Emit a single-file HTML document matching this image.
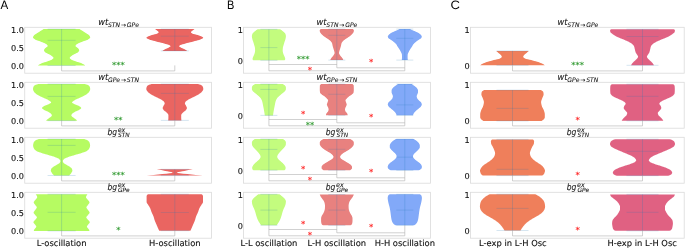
<!DOCTYPE html>
<html><head><meta charset="utf-8"><title>Figure</title>
<style>html,body{margin:0;padding:0;background:#fff}svg{display:block}</style></head>
<body>
<svg width="685" height="248" viewBox="0 0 685 248" text-rendering="geometricPrecision">
<rect width="685" height="248" fill="#fff"/>
<rect x="24.75" y="27.3" width="186.75" height="45.9" fill="none" stroke="#dadada" stroke-width="0.8"/>
<rect x="24.75" y="82.3" width="186.75" height="45.9" fill="none" stroke="#dadada" stroke-width="0.8"/>
<rect x="24.75" y="137.3" width="186.75" height="45.9" fill="none" stroke="#dadada" stroke-width="0.8"/>
<rect x="24.75" y="192.3" width="186.75" height="45.9" fill="none" stroke="#dadada" stroke-width="0.8"/>
<rect x="243.45" y="27.3" width="187.05" height="45.9" fill="none" stroke="#dadada" stroke-width="0.8"/>
<rect x="243.45" y="82.3" width="187.05" height="45.9" fill="none" stroke="#dadada" stroke-width="0.8"/>
<rect x="243.45" y="137.3" width="187.05" height="45.9" fill="none" stroke="#dadada" stroke-width="0.8"/>
<rect x="243.45" y="192.3" width="187.05" height="45.9" fill="none" stroke="#dadada" stroke-width="0.8"/>
<rect x="470.5" y="27.3" width="213.7" height="45.9" fill="none" stroke="#dadada" stroke-width="0.8"/>
<rect x="470.5" y="82.3" width="213.7" height="45.9" fill="none" stroke="#dadada" stroke-width="0.8"/>
<rect x="470.5" y="137.3" width="213.7" height="45.9" fill="none" stroke="#dadada" stroke-width="0.8"/>
<rect x="470.5" y="192.3" width="213.7" height="45.9" fill="none" stroke="#dadada" stroke-width="0.8"/>
<path d="M79.6 29.1 L80.26 29.5 L80.92 29.9 L81.57 30.3 L82.21 30.7 L82.84 31.1 L83.47 31.5 L84.09 31.9 L84.7 32.3 L85.3 32.7 L85.93 33.1 L86.59 33.5 L87.26 33.9 L87.9 34.3 L88.47 34.7 L88.95 35.1 L89.3 35.5 L89.57 35.9 L89.83 36.3 L90.04 36.7 L90.17 37.1 L90.19 37.5 L90.02 37.9 L89.67 38.3 L89.2 38.7 L88.67 39.1 L88.1 39.5 L87.29 39.9 L86.29 40.3 L85.16 40.7 L83.97 41.1 L82.8 41.5 L81.72 41.9 L80.78 42.3 L79.85 42.7 L78.92 43.1 L78.03 43.5 L77.24 43.9 L76.62 44.3 L76.22 44.7 L75.89 45.1 L75.64 45.5 L75.51 45.9 L75.59 46.3 L75.95 46.7 L76.49 47.1 L77.1 47.5 L77.68 47.9 L78.12 48.3 L78.42 48.7 L78.7 49.1 L78.96 49.5 L79.13 49.9 L79.2 50.3 L79.13 50.7 L78.95 51.1 L78.68 51.5 L78.36 51.9 L78 52.3 L77.44 52.7 L76.67 53.1 L75.79 53.5 L74.88 53.9 L74.06 54.3 L73.37 54.7 L72.71 55.1 L72.07 55.5 L71.5 55.9 L71.01 56.3 L70.58 56.7 L70.16 57.1 L69.83 57.5 L69.7 57.9 L69.84 58.3 L70.19 58.7 L70.65 59.1 L71.18 59.5 L71.92 59.9 L72.84 60.3 L73.87 60.7 L74.94 61.1 L76.06 61.5 L77.38 61.9 L78.76 62.3 L80.04 62.7 L81.1 63.1 L81.97 63.5 L82.79 63.9 L83.54 64.3 L84.2 64.7 L84.76 65.1 L85.2 65.5 L38 65.5 L38.44 65.1 L39 64.7 L39.66 64.3 L40.41 63.9 L41.23 63.5 L42.1 63.1 L43.16 62.7 L44.44 62.3 L45.82 61.9 L47.14 61.5 L48.26 61.1 L49.33 60.7 L50.36 60.3 L51.28 59.9 L52.02 59.5 L52.55 59.1 L53.01 58.7 L53.36 58.3 L53.5 57.9 L53.37 57.5 L53.04 57.1 L52.62 56.7 L52.19 56.3 L51.7 55.9 L51.13 55.5 L50.49 55.1 L49.83 54.7 L49.14 54.3 L48.32 53.9 L47.41 53.5 L46.53 53.1 L45.76 52.7 L45.2 52.3 L44.84 51.9 L44.52 51.5 L44.25 51.1 L44.07 50.7 L44 50.3 L44.07 49.9 L44.24 49.5 L44.5 49.1 L44.78 48.7 L45.08 48.3 L45.52 47.9 L46.1 47.5 L46.71 47.1 L47.25 46.7 L47.61 46.3 L47.69 45.9 L47.56 45.5 L47.31 45.1 L46.98 44.7 L46.58 44.3 L45.96 43.9 L45.17 43.5 L44.28 43.1 L43.35 42.7 L42.42 42.3 L41.48 41.9 L40.4 41.5 L39.23 41.1 L38.04 40.7 L36.91 40.3 L35.91 39.9 L35.1 39.5 L34.53 39.1 L34 38.7 L33.53 38.3 L33.18 37.9 L33.01 37.5 L33.03 37.1 L33.16 36.7 L33.37 36.3 L33.63 35.9 L33.9 35.5 L34.25 35.1 L34.73 34.7 L35.3 34.3 L35.94 33.9 L36.61 33.5 L37.27 33.1 L37.9 32.7 L38.5 32.3 L39.11 31.9 L39.73 31.5 L40.36 31.1 L40.99 30.7 L41.63 30.3 L42.28 29.9 L42.94 29.5 L43.6 29.1Z" fill="#b6fb62"/>
<path d="M194.5 29.1 L193.93 29.5 L193.38 29.9 L192.87 30.3 L192.4 30.7 L191.89 31.1 L191.38 31.5 L191 31.9 L190.91 32.3 L191.13 32.7 L191.55 33.1 L192.15 33.5 L193.34 33.9 L194.88 34.3 L196.43 34.7 L197.73 35.1 L199.02 35.5 L200.23 35.9 L201.21 36.3 L201.94 36.7 L202.61 37.1 L203.08 37.5 L203.18 37.9 L202.8 38.3 L202.1 38.7 L201.3 39.1 L200.36 39.5 L199.16 39.9 L197.79 40.3 L196.33 40.7 L194.86 41.1 L193.38 41.5 L191.78 41.9 L190.12 42.3 L188.49 42.7 L186.96 43.1 L185.52 43.5 L184.04 43.9 L182.61 44.3 L181.35 44.7 L180.36 45.1 L179.69 45.5 L179.16 45.9 L179.02 46.3 L179.41 46.7 L180.08 47.1 L180.77 47.5 L181.53 47.9 L182.41 48.3 L183.33 48.7 L184.21 49.1 L185 49.5 L185.69 49.9 L186.33 50.3 L186.92 50.7 L187.2 50.9 L162.4 50.9 L162.68 50.7 L163.27 50.3 L163.91 49.9 L164.6 49.5 L165.39 49.1 L166.27 48.7 L167.19 48.3 L168.07 47.9 L168.83 47.5 L169.52 47.1 L170.19 46.7 L170.58 46.3 L170.44 45.9 L169.91 45.5 L169.24 45.1 L168.25 44.7 L166.99 44.3 L165.56 43.9 L164.08 43.5 L162.64 43.1 L161.11 42.7 L159.48 42.3 L157.82 41.9 L156.22 41.5 L154.74 41.1 L153.27 40.7 L151.81 40.3 L150.44 39.9 L149.24 39.5 L148.3 39.1 L147.5 38.7 L146.8 38.3 L146.42 37.9 L146.52 37.5 L146.99 37.1 L147.66 36.7 L148.39 36.3 L149.37 35.9 L150.58 35.5 L151.87 35.1 L153.17 34.7 L154.72 34.3 L156.26 33.9 L157.45 33.5 L158.05 33.1 L158.47 32.7 L158.69 32.3 L158.6 31.9 L158.22 31.5 L157.71 31.1 L157.2 30.7 L156.73 30.3 L156.22 29.9 L155.67 29.5 L155.1 29.1Z" fill="#ea6561"/>
<path d="M84.8 84 L86.29 84.4 L87.48 84.8 L88.23 85.2 L88.81 85.6 L89.26 86 L89.55 86.4 L89.72 86.8 L89.86 87.2 L89.98 87.6 L90.08 88 L90.15 88.4 L90.19 88.8 L90.2 89.2 L90.15 89.6 L90.04 90 L89.89 90.4 L89.71 90.8 L89.51 91.2 L89.3 91.6 L89.05 92 L88.72 92.4 L88.34 92.8 L87.9 93.2 L87.43 93.6 L86.93 94 L86.39 94.4 L85.77 94.8 L85.07 95.2 L84.33 95.6 L83.54 96 L82.73 96.4 L81.91 96.8 L81.09 97.2 L80.21 97.6 L79.27 98 L78.31 98.4 L77.37 98.8 L76.48 99.2 L75.7 99.6 L74.99 100 L74.31 100.4 L73.68 100.8 L73.14 101.2 L72.7 101.6 L72.27 102 L72.01 102.4 L72.16 102.8 L72.71 103.2 L73.37 103.6 L74.19 104 L75.14 104.4 L76.06 104.8 L77.05 105.2 L78.06 105.6 L78.99 106 L79.73 106.4 L80.23 106.8 L80.67 107.2 L81.02 107.6 L81.19 108 L81.1 108.4 L80.72 108.8 L80.17 109.2 L79.6 109.6 L78.95 110 L78.14 110.4 L77.23 110.8 L76.3 111.2 L75.43 111.6 L74.66 112 L74.03 112.4 L73.41 112.8 L72.84 113.2 L72.35 113.6 L71.97 114 L71.69 114.4 L71.44 114.8 L71.31 115.2 L71.36 115.6 L71.6 116 L71.92 116.4 L72.3 116.8 L72.84 117.2 L73.4 117.6 L73.95 118 L74.52 118.4 L75.09 118.8 L75.6 119.2 L76.07 119.6 L76.51 120 L76.92 120.4 L77.2 120.7 L46 120.7 L46.28 120.4 L46.69 120 L47.13 119.6 L47.6 119.2 L48.11 118.8 L48.68 118.4 L49.25 118 L49.8 117.6 L50.36 117.2 L50.9 116.8 L51.28 116.4 L51.6 116 L51.84 115.6 L51.89 115.2 L51.76 114.8 L51.51 114.4 L51.23 114 L50.85 113.6 L50.36 113.2 L49.79 112.8 L49.17 112.4 L48.54 112 L47.77 111.6 L46.9 111.2 L45.97 110.8 L45.06 110.4 L44.25 110 L43.6 109.6 L43.03 109.2 L42.48 108.8 L42.1 108.4 L42.01 108 L42.18 107.6 L42.53 107.2 L42.97 106.8 L43.47 106.4 L44.21 106 L45.14 105.6 L46.15 105.2 L47.14 104.8 L48.06 104.4 L49.01 104 L49.83 103.6 L50.49 103.2 L51.04 102.8 L51.19 102.4 L50.93 102 L50.5 101.6 L50.06 101.2 L49.52 100.8 L48.89 100.4 L48.21 100 L47.5 99.6 L46.72 99.2 L45.83 98.8 L44.89 98.4 L43.93 98 L42.99 97.6 L42.11 97.2 L41.29 96.8 L40.47 96.4 L39.66 96 L38.87 95.6 L38.13 95.2 L37.43 94.8 L36.81 94.4 L36.27 94 L35.77 93.6 L35.3 93.2 L34.86 92.8 L34.48 92.4 L34.15 92 L33.9 91.6 L33.69 91.2 L33.49 90.8 L33.31 90.4 L33.16 90 L33.05 89.6 L33 89.2 L33.01 88.8 L33.05 88.4 L33.12 88 L33.22 87.6 L33.34 87.2 L33.48 86.8 L33.65 86.4 L33.94 86 L34.39 85.6 L34.97 85.2 L35.72 84.8 L36.91 84.4 L38.4 84Z" fill="#b6fb62"/>
<path d="M198 84 L199.43 84.4 L200.59 84.8 L201.33 85.2 L201.91 85.6 L202.36 86 L202.65 86.4 L202.82 86.8 L202.96 87.2 L203.08 87.6 L203.18 88 L203.25 88.4 L203.29 88.8 L203.3 89.2 L203.22 89.6 L203.07 90 L202.85 90.4 L202.58 90.8 L202.29 91.2 L202 91.6 L201.67 92 L201.26 92.4 L200.79 92.8 L200.27 93.2 L199.72 93.6 L199.14 94 L198.54 94.4 L197.87 94.8 L197.15 95.2 L196.38 95.6 L195.59 96 L194.79 96.4 L193.99 96.8 L193.2 97.2 L192.38 97.6 L191.53 98 L190.67 98.4 L189.84 98.8 L189.07 99.2 L188.4 99.6 L187.78 100 L187.17 100.4 L186.59 100.8 L186.08 101.2 L185.68 101.6 L185.4 102 L185.2 102.4 L185.04 102.8 L184.93 103.2 L184.91 103.6 L185.02 104 L185.23 104.4 L185.49 104.8 L185.74 105.2 L185.94 105.6 L186.14 106 L186.34 106.4 L186.54 106.8 L186.71 107.2 L186.84 107.6 L186.9 108 L186.87 108.4 L186.73 108.8 L186.51 109.2 L186.25 109.6 L185.97 110 L185.65 110.4 L185.2 110.8 L184.66 111.2 L184.1 111.6 L183.56 112 L183.09 112.4 L182.72 112.8 L182.35 113.2 L181.99 113.6 L181.66 114 L181.4 114.4 L181.24 114.8 L181.2 115.2 L181.2 115.6 L181.2 116 L181.2 116.4 L181.2 116.8 L181.2 117.2 L181.2 117.6 L181.21 118 L181.22 118.4 L181.25 118.8 L181.28 119.2 L181.32 119.6 L181.36 120 L181.4 120.4 L168.2 120.4 L168.24 120 L168.28 119.6 L168.32 119.2 L168.35 118.8 L168.38 118.4 L168.39 118 L168.4 117.6 L168.4 117.2 L168.4 116.8 L168.4 116.4 L168.4 116 L168.4 115.6 L168.4 115.2 L168.36 114.8 L168.2 114.4 L167.94 114 L167.61 113.6 L167.25 113.2 L166.88 112.8 L166.51 112.4 L166.04 112 L165.5 111.6 L164.94 111.2 L164.4 110.8 L163.95 110.4 L163.63 110 L163.35 109.6 L163.09 109.2 L162.87 108.8 L162.73 108.4 L162.7 108 L162.76 107.6 L162.89 107.2 L163.06 106.8 L163.26 106.4 L163.46 106 L163.66 105.6 L163.86 105.2 L164.11 104.8 L164.37 104.4 L164.58 104 L164.69 103.6 L164.67 103.2 L164.56 102.8 L164.4 102.4 L164.2 102 L163.92 101.6 L163.52 101.2 L163.01 100.8 L162.43 100.4 L161.82 100 L161.2 99.6 L160.53 99.2 L159.76 98.8 L158.93 98.4 L158.07 98 L157.22 97.6 L156.4 97.2 L155.61 96.8 L154.81 96.4 L154.01 96 L153.22 95.6 L152.45 95.2 L151.73 94.8 L151.06 94.4 L150.46 94 L149.88 93.6 L149.33 93.2 L148.81 92.8 L148.34 92.4 L147.93 92 L147.6 91.6 L147.31 91.2 L147.02 90.8 L146.75 90.4 L146.53 90 L146.38 89.6 L146.3 89.2 L146.31 88.8 L146.35 88.4 L146.42 88 L146.52 87.6 L146.64 87.2 L146.78 86.8 L146.95 86.4 L147.24 86 L147.69 85.6 L148.27 85.2 L149.01 84.8 L150.17 84.4 L151.6 84Z" fill="#ea6561"/>
<path d="M84.3 139 L85.45 139.4 L86.49 139.8 L87.33 140.2 L87.93 140.6 L88.39 141 L88.8 141.4 L89.13 141.8 L89.37 142.2 L89.53 142.6 L89.66 143 L89.77 143.4 L89.87 143.8 L89.96 144.2 L90.03 144.6 L90.07 145 L90.1 145.4 L90.09 145.8 L90.05 146.2 L89.97 146.6 L89.86 147 L89.72 147.4 L89.56 147.8 L89.39 148.2 L89.2 148.6 L88.97 149 L88.66 149.4 L88.28 149.8 L87.83 150.2 L87.32 150.6 L86.75 151 L86.06 151.4 L85.13 151.8 L84.03 152.2 L82.82 152.6 L81.6 153 L80.37 153.4 L79.03 153.8 L77.63 154.2 L76.21 154.6 L74.83 155 L73.49 155.4 L72.12 155.8 L70.77 156.2 L69.49 156.6 L68.36 157 L67.35 157.4 L66.36 157.8 L65.45 158.2 L64.68 158.6 L64.1 159 L63.72 159.4 L63.36 159.8 L63.07 160.2 L62.87 160.6 L62.8 161 L62.84 161.4 L62.95 161.8 L63.11 162.2 L63.3 162.6 L63.62 163 L64.13 163.4 L64.77 163.8 L65.45 164.2 L66.1 164.6 L66.76 165 L67.48 165.4 L68.2 165.8 L68.89 166.2 L69.5 166.6 L70.06 167 L70.61 167.4 L71.12 167.8 L71.53 168.2 L71.8 168.6 L71.98 169 L72.15 169.4 L72.28 169.8 L72.37 170.2 L72.4 170.6 L72.34 171 L72.19 171.4 L71.97 171.8 L71.73 172.2 L71.5 172.6 L71.27 173 L71.01 173.4 L70.72 173.8 L70.4 174.2 L70.03 174.6 L69.6 175 L69.12 175.4 L69 175.5 L54.2 175.5 L54.08 175.4 L53.6 175 L53.17 174.6 L52.8 174.2 L52.48 173.8 L52.19 173.4 L51.93 173 L51.7 172.6 L51.47 172.2 L51.23 171.8 L51.01 171.4 L50.86 171 L50.8 170.6 L50.83 170.2 L50.92 169.8 L51.05 169.4 L51.22 169 L51.4 168.6 L51.67 168.2 L52.08 167.8 L52.59 167.4 L53.14 167 L53.7 166.6 L54.31 166.2 L55 165.8 L55.72 165.4 L56.44 165 L57.1 164.6 L57.75 164.2 L58.43 163.8 L59.07 163.4 L59.58 163 L59.9 162.6 L60.09 162.2 L60.25 161.8 L60.36 161.4 L60.4 161 L60.33 160.6 L60.13 160.2 L59.84 159.8 L59.48 159.4 L59.1 159 L58.52 158.6 L57.75 158.2 L56.84 157.8 L55.85 157.4 L54.84 157 L53.71 156.6 L52.43 156.2 L51.08 155.8 L49.71 155.4 L48.37 155 L46.99 154.6 L45.57 154.2 L44.17 153.8 L42.83 153.4 L41.6 153 L40.38 152.6 L39.17 152.2 L38.07 151.8 L37.14 151.4 L36.45 151 L35.88 150.6 L35.37 150.2 L34.92 149.8 L34.54 149.4 L34.23 149 L34 148.6 L33.81 148.2 L33.64 147.8 L33.48 147.4 L33.34 147 L33.23 146.6 L33.15 146.2 L33.11 145.8 L33.1 145.4 L33.13 145 L33.17 144.6 L33.24 144.2 L33.33 143.8 L33.43 143.4 L33.54 143 L33.67 142.6 L33.83 142.2 L34.07 141.8 L34.4 141.4 L34.81 141 L35.27 140.6 L35.87 140.2 L36.71 139.8 L37.75 139.4 L38.9 139Z" fill="#b6fb62"/>
<path d="M192.8 169.3 L190.5 169.7 L188.32 170.1 L186.3 170.5 L184.38 170.9 L182.35 171.3 L180.22 171.7 L178.38 172.1 L176.89 172.5 L177.55 172.9 L179.8 173.3 L183.19 173.7 L187.4 174.1 L191.57 174.5 L195.8 174.9 L199.89 175.3 L202.9 175.6 L146.7 175.6 L149.71 175.3 L153.8 174.9 L158.03 174.5 L162.2 174.1 L166.41 173.7 L169.8 173.3 L172.05 172.9 L172.71 172.5 L171.22 172.1 L169.38 171.7 L167.25 171.3 L165.22 170.9 L163.3 170.5 L161.28 170.1 L159.1 169.7 L156.8 169.3Z" fill="#ea6561"/>
<path d="M87.6 194.2 L87.23 194.6 L86.91 195 L86.65 195.4 L86.46 195.8 L86.27 196.2 L86.12 196.6 L86.02 197 L86.01 197.4 L86.13 197.8 L86.39 198.2 L86.73 198.6 L87.11 199 L87.48 199.4 L87.8 199.8 L88.1 200.2 L88.45 200.6 L88.79 201 L89.1 201.4 L89.34 201.8 L89.48 202.2 L89.48 202.6 L89.35 203 L89.12 203.4 L88.83 203.8 L88.51 204.2 L88.2 204.6 L87.94 205 L87.64 205.4 L87.3 205.8 L86.97 206.2 L86.68 206.6 L86.48 207 L86.4 207.4 L86.47 207.8 L86.66 208.2 L86.92 208.6 L87.24 209 L87.57 209.4 L87.87 209.8 L88.13 210.2 L88.43 210.6 L88.76 211 L89.08 211.4 L89.34 211.8 L89.53 212.2 L89.6 212.6 L89.52 213 L89.31 213.4 L89.01 213.8 L88.66 214.2 L88.31 214.6 L88 215 L87.68 215.4 L87.32 215.8 L86.94 216.2 L86.62 216.6 L86.39 217 L86.3 217.4 L86.39 217.8 L86.61 218.2 L86.93 218.6 L87.3 219 L87.67 219.4 L88 219.8 L88.34 220.2 L88.73 220.6 L89.12 221 L89.46 221.4 L89.71 221.8 L89.8 222.2 L89.71 222.6 L89.47 223 L89.14 223.4 L88.78 223.8 L88.44 224.2 L88.16 224.6 L87.84 225 L87.5 225.4 L87.2 225.8 L86.98 226.2 L86.9 226.6 L86.99 227 L87.23 227.4 L87.55 227.8 L87.9 228.2 L88.2 228.6 L88.51 229 L88.86 229.4 L89.18 229.8 L89.37 230.2 L89.36 230.6 L89.2 230.9 L34 230.9 L33.84 230.6 L33.83 230.2 L34.02 229.8 L34.34 229.4 L34.69 229 L35 228.6 L35.3 228.2 L35.65 227.8 L35.97 227.4 L36.21 227 L36.3 226.6 L36.22 226.2 L36 225.8 L35.7 225.4 L35.36 225 L35.04 224.6 L34.76 224.2 L34.42 223.8 L34.06 223.4 L33.73 223 L33.49 222.6 L33.4 222.2 L33.49 221.8 L33.74 221.4 L34.08 221 L34.47 220.6 L34.86 220.2 L35.2 219.8 L35.53 219.4 L35.9 219 L36.27 218.6 L36.59 218.2 L36.81 217.8 L36.9 217.4 L36.81 217 L36.58 216.6 L36.26 216.2 L35.88 215.8 L35.52 215.4 L35.2 215 L34.89 214.6 L34.54 214.2 L34.19 213.8 L33.89 213.4 L33.68 213 L33.6 212.6 L33.67 212.2 L33.86 211.8 L34.12 211.4 L34.44 211 L34.77 210.6 L35.07 210.2 L35.33 209.8 L35.63 209.4 L35.96 209 L36.28 208.6 L36.54 208.2 L36.73 207.8 L36.8 207.4 L36.72 207 L36.52 206.6 L36.23 206.2 L35.9 205.8 L35.56 205.4 L35.26 205 L35 204.6 L34.69 204.2 L34.37 203.8 L34.08 203.4 L33.85 203 L33.72 202.6 L33.72 202.2 L33.86 201.8 L34.1 201.4 L34.41 201 L34.75 200.6 L35.1 200.2 L35.4 199.8 L35.72 199.4 L36.09 199 L36.47 198.6 L36.81 198.2 L37.07 197.8 L37.19 197.4 L37.18 197 L37.08 196.6 L36.93 196.2 L36.74 195.8 L36.55 195.4 L36.29 195 L35.97 194.6 L35.6 194.2Z" fill="#b6fb62"/>
<path d="M201.4 194.2 L202.05 194.6 L202.5 195 L202.78 195.4 L202.97 195.8 L203 196.2 L203 196.6 L203 197 L203 197.4 L203 197.8 L203 198.2 L203 198.6 L203 199 L203 199.4 L203 199.8 L203 200.2 L203 200.6 L203 201 L203 201.4 L203 201.8 L203 202.2 L202.9 202.6 L202.71 203 L202.45 203.4 L202.15 203.8 L201.86 204.2 L201.6 204.6 L201.36 205 L201.11 205.4 L200.85 205.8 L200.59 206.2 L200.34 206.6 L200.09 207 L199.86 207.4 L199.64 207.8 L199.45 208.2 L199.28 208.6 L199.13 209 L198.98 209.4 L198.84 209.8 L198.7 210.2 L198.57 210.6 L198.44 211 L198.3 211.4 L198.15 211.8 L198 212.2 L197.83 212.6 L197.66 213 L197.47 213.4 L197.28 213.8 L197.09 214.2 L196.9 214.6 L196.71 215 L196.53 215.4 L196.35 215.8 L196.19 216.2 L196.04 216.6 L195.9 217 L195.77 217.4 L195.66 217.8 L195.55 218.2 L195.44 218.6 L195.33 219 L195.22 219.4 L195.1 219.8 L194.97 220.2 L194.82 220.6 L194.67 221 L194.51 221.4 L194.35 221.8 L194.18 222.2 L194 222.6 L193.83 223 L193.65 223.4 L193.47 223.8 L193.29 224.2 L193.12 224.6 L192.94 225 L192.77 225.4 L192.6 225.8 L192.44 226.2 L192.27 226.6 L192.1 227 L191.93 227.4 L191.76 227.8 L191.58 228.2 L191.4 228.6 L191.22 229 L191.03 229.4 L190.84 229.8 L190.65 230.2 L190.45 230.6 L190.4 230.7 L159.2 230.7 L159.15 230.6 L158.95 230.2 L158.76 229.8 L158.57 229.4 L158.38 229 L158.2 228.6 L158.02 228.2 L157.84 227.8 L157.67 227.4 L157.5 227 L157.33 226.6 L157.16 226.2 L157 225.8 L156.83 225.4 L156.66 225 L156.48 224.6 L156.31 224.2 L156.13 223.8 L155.95 223.4 L155.77 223 L155.6 222.6 L155.42 222.2 L155.25 221.8 L155.09 221.4 L154.93 221 L154.78 220.6 L154.63 220.2 L154.5 219.8 L154.38 219.4 L154.27 219 L154.16 218.6 L154.05 218.2 L153.94 217.8 L153.83 217.4 L153.7 217 L153.56 216.6 L153.41 216.2 L153.25 215.8 L153.07 215.4 L152.89 215 L152.7 214.6 L152.51 214.2 L152.32 213.8 L152.13 213.4 L151.94 213 L151.77 212.6 L151.6 212.2 L151.45 211.8 L151.3 211.4 L151.16 211 L151.03 210.6 L150.9 210.2 L150.76 209.8 L150.62 209.4 L150.47 209 L150.32 208.6 L150.15 208.2 L149.96 207.8 L149.74 207.4 L149.51 207 L149.26 206.6 L149.01 206.2 L148.75 205.8 L148.49 205.4 L148.24 205 L148 204.6 L147.74 204.2 L147.45 203.8 L147.15 203.4 L146.89 203 L146.7 202.6 L146.6 202.2 L146.6 201.8 L146.6 201.4 L146.6 201 L146.6 200.6 L146.6 200.2 L146.6 199.8 L146.6 199.4 L146.6 199 L146.6 198.6 L146.6 198.2 L146.6 197.8 L146.6 197.4 L146.6 197 L146.6 196.6 L146.6 196.2 L146.63 195.8 L146.82 195.4 L147.1 195 L147.55 194.6 L148.2 194.2Z" fill="#ea6561"/>
<path d="M280.2 29.3 L280.81 29.7 L281.4 30.1 L281.95 30.5 L282.48 30.9 L282.96 31.3 L283.41 31.7 L283.86 32.1 L284.3 32.5 L284.71 32.9 L285.06 33.3 L285.31 33.7 L285.47 34.1 L285.6 34.5 L285.71 34.9 L285.81 35.3 L285.87 35.7 L285.9 36.1 L285.89 36.5 L285.86 36.9 L285.81 37.3 L285.74 37.7 L285.66 38.1 L285.58 38.5 L285.49 38.9 L285.4 39.3 L285.3 39.7 L285.18 40.1 L285.04 40.5 L284.9 40.9 L284.75 41.3 L284.6 41.7 L284.46 42.1 L284.34 42.5 L284.22 42.9 L284.1 43.3 L283.98 43.7 L283.87 44.1 L283.75 44.5 L283.64 44.9 L283.53 45.3 L283.41 45.7 L283.28 46.1 L283.15 46.5 L283.04 46.9 L282.94 47.3 L282.89 47.7 L282.85 48.1 L282.81 48.5 L282.78 48.9 L282.75 49.3 L282.73 49.7 L282.71 50.1 L282.7 50.5 L282.7 50.9 L282.74 51.3 L282.8 51.7 L282.88 52.1 L282.97 52.5 L283.08 52.9 L283.19 53.3 L283.3 53.7 L283.43 54.1 L283.58 54.5 L283.75 54.9 L283.94 55.3 L284.13 55.7 L284.31 56.1 L284.49 56.5 L284.64 56.9 L284.8 57.3 L284.97 57.7 L285.1 58.1 L285.19 58.5 L285.2 58.9 L285.17 59.3 L285.12 59.7 L284.81 60.1 L284.5 60.3 L253.3 60.3 L252.99 60.1 L252.68 59.7 L252.63 59.3 L252.6 58.9 L252.61 58.5 L252.7 58.1 L252.83 57.7 L253 57.3 L253.16 56.9 L253.31 56.5 L253.49 56.1 L253.67 55.7 L253.86 55.3 L254.05 54.9 L254.22 54.5 L254.37 54.1 L254.5 53.7 L254.61 53.3 L254.72 52.9 L254.83 52.5 L254.92 52.1 L255 51.7 L255.06 51.3 L255.1 50.9 L255.1 50.5 L255.09 50.1 L255.07 49.7 L255.05 49.3 L255.02 48.9 L254.99 48.5 L254.95 48.1 L254.91 47.7 L254.86 47.3 L254.76 46.9 L254.65 46.5 L254.52 46.1 L254.39 45.7 L254.27 45.3 L254.16 44.9 L254.05 44.5 L253.93 44.1 L253.82 43.7 L253.7 43.3 L253.58 42.9 L253.46 42.5 L253.34 42.1 L253.2 41.7 L253.05 41.3 L252.9 40.9 L252.76 40.5 L252.62 40.1 L252.5 39.7 L252.4 39.3 L252.31 38.9 L252.22 38.5 L252.14 38.1 L252.06 37.7 L251.99 37.3 L251.94 36.9 L251.91 36.5 L251.9 36.1 L251.93 35.7 L251.99 35.3 L252.09 34.9 L252.2 34.5 L252.33 34.1 L252.49 33.7 L252.74 33.3 L253.09 32.9 L253.5 32.5 L253.94 32.1 L254.39 31.7 L254.84 31.3 L255.32 30.9 L255.85 30.5 L256.4 30.1 L256.99 29.7 L257.6 29.3Z" fill="#c3fc7e"/>
<path d="M352.9 29.1 L353.36 29.5 L353.71 29.9 L353.89 30.3 L353.89 30.7 L353.83 31.1 L353.74 31.5 L353.63 31.9 L353.48 32.3 L353.26 32.7 L352.96 33.1 L352.64 33.5 L352.3 33.9 L351.94 34.3 L351.55 34.7 L351.11 35.1 L350.65 35.5 L350.17 35.9 L349.67 36.3 L349.12 36.7 L348.53 37.1 L347.91 37.5 L347.29 37.9 L346.69 38.3 L346.11 38.7 L345.53 39.1 L344.94 39.5 L344.37 39.9 L343.85 40.3 L343.4 40.7 L343.02 41.1 L342.65 41.5 L342.32 41.9 L342.02 42.3 L341.78 42.7 L341.6 43.1 L341.47 43.5 L341.36 43.9 L341.27 44.3 L341.19 44.7 L341.12 45.1 L341.04 45.5 L340.95 45.9 L340.85 46.3 L340.73 46.7 L340.62 47.1 L340.49 47.5 L340.37 47.9 L340.25 48.3 L340.12 48.7 L340 49.1 L339.88 49.5 L339.75 49.9 L339.62 50.3 L339.49 50.7 L339.37 51.1 L339.27 51.5 L339.18 51.9 L339.09 52.3 L339.02 52.7 L339 53.1 L339.1 53.5 L339.28 53.9 L339.5 54.3 L339.71 54.7 L339.95 55.1 L340.23 55.5 L340.52 55.9 L340.82 56.3 L341.14 56.7 L341.51 57.1 L341.88 57.5 L342.22 57.9 L342.5 58.3 L342.72 58.7 L342.93 59.1 L343.1 59.5 L343.24 59.9 L343.3 60.1 L330.3 60.1 L330.36 59.9 L330.5 59.5 L330.67 59.1 L330.88 58.7 L331.1 58.3 L331.38 57.9 L331.72 57.5 L332.09 57.1 L332.46 56.7 L332.78 56.3 L333.08 55.9 L333.37 55.5 L333.65 55.1 L333.89 54.7 L334.1 54.3 L334.32 53.9 L334.5 53.5 L334.6 53.1 L334.58 52.7 L334.51 52.3 L334.42 51.9 L334.33 51.5 L334.23 51.1 L334.11 50.7 L333.98 50.3 L333.85 49.9 L333.72 49.5 L333.6 49.1 L333.48 48.7 L333.35 48.3 L333.23 47.9 L333.11 47.5 L332.98 47.1 L332.87 46.7 L332.75 46.3 L332.65 45.9 L332.56 45.5 L332.48 45.1 L332.41 44.7 L332.33 44.3 L332.24 43.9 L332.13 43.5 L332 43.1 L331.82 42.7 L331.58 42.3 L331.28 41.9 L330.95 41.5 L330.58 41.1 L330.2 40.7 L329.75 40.3 L329.23 39.9 L328.66 39.5 L328.07 39.1 L327.49 38.7 L326.91 38.3 L326.31 37.9 L325.69 37.5 L325.07 37.1 L324.48 36.7 L323.93 36.3 L323.43 35.9 L322.95 35.5 L322.49 35.1 L322.05 34.7 L321.66 34.3 L321.3 33.9 L320.96 33.5 L320.64 33.1 L320.34 32.7 L320.12 32.3 L319.97 31.9 L319.86 31.5 L319.77 31.1 L319.71 30.7 L319.71 30.3 L319.89 29.9 L320.24 29.5 L320.7 29.1Z" fill="#e8817f"/>
<path d="M410 29.1 L410.9 29.5 L411.79 29.9 L412.69 30.3 L413.58 30.7 L414.49 31.1 L415.44 31.5 L416.38 31.9 L417.25 32.3 L418 32.7 L418.66 33.1 L419.28 33.5 L419.84 33.9 L420.32 34.3 L420.7 34.7 L421.03 35.1 L421.34 35.5 L421.59 35.9 L421.76 36.3 L421.8 36.7 L421.71 37.1 L421.54 37.5 L421.32 37.9 L421.04 38.3 L420.55 38.7 L419.9 39.1 L419.2 39.5 L418.54 39.9 L417.98 40.3 L417.43 40.7 L416.89 41.1 L416.37 41.5 L415.87 41.9 L415.4 42.3 L414.95 42.7 L414.5 43.1 L414.07 43.5 L413.67 43.9 L413.32 44.3 L413.03 44.7 L412.81 45.1 L412.61 45.5 L412.41 45.9 L412.18 46.3 L411.93 46.7 L411.66 47.1 L411.38 47.5 L411.1 47.9 L410.82 48.3 L410.55 48.7 L410.3 49.1 L410.06 49.5 L409.82 49.9 L409.59 50.3 L409.36 50.7 L409.15 51.1 L408.94 51.5 L408.74 51.9 L408.55 52.3 L408.36 52.7 L408.16 53.1 L407.98 53.5 L407.83 53.9 L407.73 54.3 L407.68 54.7 L407.66 55.1 L407.63 55.5 L407.62 55.9 L407.61 56.3 L407.6 56.7 L407.6 57.1 L407.61 57.5 L407.62 57.9 L407.64 58.3 L407.67 58.7 L407.7 59.1 L407.73 59.5 L407.78 59.9 L407.8 60.1 L401.8 60.1 L401.82 59.9 L401.87 59.5 L401.9 59.1 L401.93 58.7 L401.96 58.3 L401.98 57.9 L401.99 57.5 L402 57.1 L402 56.7 L401.99 56.3 L401.98 55.9 L401.97 55.5 L401.94 55.1 L401.92 54.7 L401.87 54.3 L401.77 53.9 L401.62 53.5 L401.44 53.1 L401.24 52.7 L401.05 52.3 L400.86 51.9 L400.66 51.5 L400.45 51.1 L400.24 50.7 L400.01 50.3 L399.78 49.9 L399.54 49.5 L399.3 49.1 L399.05 48.7 L398.78 48.3 L398.5 47.9 L398.22 47.5 L397.94 47.1 L397.67 46.7 L397.42 46.3 L397.19 45.9 L396.99 45.5 L396.79 45.1 L396.57 44.7 L396.28 44.3 L395.93 43.9 L395.53 43.5 L395.1 43.1 L394.65 42.7 L394.2 42.3 L393.73 41.9 L393.23 41.5 L392.71 41.1 L392.17 40.7 L391.62 40.3 L391.06 39.9 L390.4 39.5 L389.7 39.1 L389.05 38.7 L388.56 38.3 L388.28 37.9 L388.06 37.5 L387.89 37.1 L387.8 36.7 L387.84 36.3 L388.01 35.9 L388.26 35.5 L388.57 35.1 L388.9 34.7 L389.28 34.3 L389.76 33.9 L390.32 33.5 L390.94 33.1 L391.6 32.7 L392.35 32.3 L393.22 31.9 L394.16 31.5 L395.11 31.1 L396.02 30.7 L396.91 30.3 L397.81 29.9 L398.7 29.5 L399.6 29.1Z" fill="#82a9f8"/>
<path d="M282.7 84.1 L283.54 84.5 L284.28 84.9 L284.81 85.3 L285.13 85.7 L285.42 86.1 L285.65 86.5 L285.82 86.9 L285.9 87.3 L285.9 87.7 L285.9 88.1 L285.9 88.5 L285.9 88.9 L285.9 89.3 L285.83 89.7 L285.66 90.1 L285.41 90.5 L285.12 90.9 L284.82 91.3 L284.45 91.7 L284 92.1 L283.49 92.5 L282.96 92.9 L282.44 93.3 L281.96 93.7 L281.48 94.1 L281 94.5 L280.53 94.9 L280.06 95.3 L279.61 95.7 L279.17 96.1 L278.72 96.5 L278.29 96.9 L277.88 97.3 L277.51 97.7 L277.2 98.1 L276.94 98.5 L276.69 98.9 L276.47 99.3 L276.26 99.7 L276.08 100.1 L275.91 100.5 L275.76 100.9 L275.64 101.3 L275.53 101.7 L275.42 102.1 L275.33 102.5 L275.24 102.9 L275.16 103.3 L275.08 103.7 L275.01 104.1 L274.93 104.5 L274.86 104.9 L274.78 105.3 L274.7 105.7 L274.62 106.1 L274.54 106.5 L274.45 106.9 L274.37 107.3 L274.29 107.7 L274.21 108.1 L274.13 108.5 L274.06 108.9 L273.98 109.3 L273.91 109.7 L273.84 110.1 L273.77 110.5 L273.7 110.9 L273.63 111.3 L273.56 111.7 L273.5 112.1 L273.43 112.5 L273.37 112.9 L273.31 113.3 L273.24 113.7 L273.18 114.1 L273.13 114.5 L273.07 114.9 L273.01 115.3 L273 115.4 L264.8 115.4 L264.79 115.3 L264.73 114.9 L264.67 114.5 L264.62 114.1 L264.56 113.7 L264.49 113.3 L264.43 112.9 L264.37 112.5 L264.3 112.1 L264.24 111.7 L264.17 111.3 L264.1 110.9 L264.03 110.5 L263.96 110.1 L263.89 109.7 L263.82 109.3 L263.74 108.9 L263.67 108.5 L263.59 108.1 L263.51 107.7 L263.43 107.3 L263.35 106.9 L263.26 106.5 L263.18 106.1 L263.1 105.7 L263.02 105.3 L262.94 104.9 L262.87 104.5 L262.79 104.1 L262.72 103.7 L262.64 103.3 L262.56 102.9 L262.47 102.5 L262.38 102.1 L262.27 101.7 L262.16 101.3 L262.04 100.9 L261.89 100.5 L261.72 100.1 L261.54 99.7 L261.33 99.3 L261.11 98.9 L260.86 98.5 L260.6 98.1 L260.29 97.7 L259.92 97.3 L259.51 96.9 L259.08 96.5 L258.63 96.1 L258.19 95.7 L257.74 95.3 L257.27 94.9 L256.8 94.5 L256.32 94.1 L255.84 93.7 L255.36 93.3 L254.84 92.9 L254.31 92.5 L253.8 92.1 L253.35 91.7 L252.98 91.3 L252.68 90.9 L252.39 90.5 L252.14 90.1 L251.97 89.7 L251.9 89.3 L251.9 88.9 L251.9 88.5 L251.9 88.1 L251.9 87.7 L251.9 87.3 L251.98 86.9 L252.15 86.5 L252.38 86.1 L252.67 85.7 L252.99 85.3 L253.52 84.9 L254.26 84.5 L255.1 84.1Z" fill="#c3fc7e"/>
<path d="M352.5 84.1 L352.98 84.5 L353.43 84.9 L353.68 85.3 L353.72 85.7 L353.73 86.1 L353.75 86.5 L353.76 86.9 L353.77 87.3 L353.78 87.7 L353.79 88.1 L353.79 88.5 L353.8 88.9 L353.8 89.3 L353.8 89.7 L353.79 90.1 L353.78 90.5 L353.75 90.9 L353.71 91.3 L353.66 91.7 L353.61 92.1 L353.54 92.5 L353.44 92.9 L353.17 93.3 L352.77 93.7 L352.3 94.1 L351.82 94.5 L351.32 94.9 L350.72 95.3 L350.08 95.7 L349.45 96.1 L348.9 96.5 L348.42 96.9 L347.98 97.3 L347.56 97.7 L347.18 98.1 L346.82 98.5 L346.42 98.9 L346.03 99.3 L345.71 99.7 L345.53 100.1 L345.51 100.5 L345.58 100.9 L345.69 101.3 L345.83 101.7 L345.97 102.1 L346.1 102.5 L346.24 102.9 L346.39 103.3 L346.54 103.7 L346.66 104.1 L346.7 104.5 L346.65 104.9 L346.53 105.3 L346.36 105.7 L346.18 106.1 L346.01 106.5 L345.81 106.9 L345.6 107.3 L345.41 107.7 L345.27 108.1 L345.16 108.5 L345.07 108.9 L345.01 109.3 L345.01 109.7 L345.07 110.1 L345.17 110.5 L345.31 110.9 L345.46 111.3 L345.67 111.7 L346.03 112.1 L346.45 112.5 L346.83 112.9 L347.1 113.3 L347.27 113.7 L347.43 114.1 L347.57 114.5 L347.66 114.9 L347.7 115.3 L325.9 115.3 L325.94 114.9 L326.03 114.5 L326.17 114.1 L326.33 113.7 L326.5 113.3 L326.77 112.9 L327.15 112.5 L327.57 112.1 L327.93 111.7 L328.14 111.3 L328.29 110.9 L328.43 110.5 L328.53 110.1 L328.59 109.7 L328.59 109.3 L328.53 108.9 L328.44 108.5 L328.33 108.1 L328.19 107.7 L328 107.3 L327.79 106.9 L327.59 106.5 L327.42 106.1 L327.24 105.7 L327.07 105.3 L326.95 104.9 L326.9 104.5 L326.94 104.1 L327.06 103.7 L327.21 103.3 L327.36 102.9 L327.5 102.5 L327.63 102.1 L327.77 101.7 L327.91 101.3 L328.02 100.9 L328.09 100.5 L328.07 100.1 L327.89 99.7 L327.57 99.3 L327.18 98.9 L326.78 98.5 L326.42 98.1 L326.04 97.7 L325.62 97.3 L325.18 96.9 L324.7 96.5 L324.15 96.1 L323.52 95.7 L322.88 95.3 L322.28 94.9 L321.78 94.5 L321.3 94.1 L320.83 93.7 L320.43 93.3 L320.16 92.9 L320.06 92.5 L319.99 92.1 L319.94 91.7 L319.89 91.3 L319.85 90.9 L319.82 90.5 L319.81 90.1 L319.8 89.7 L319.8 89.3 L319.8 88.9 L319.81 88.5 L319.81 88.1 L319.82 87.7 L319.83 87.3 L319.84 86.9 L319.85 86.5 L319.87 86.1 L319.88 85.7 L319.92 85.3 L320.17 84.9 L320.62 84.5 L321.1 84.1Z" fill="#e8817f"/>
<path d="M411.6 84.1 L412.26 84.5 L412.9 84.9 L413.5 85.3 L414.06 85.7 L414.61 86.1 L415.15 86.5 L415.68 86.9 L416.16 87.3 L416.57 87.7 L416.9 88.1 L417.17 88.5 L417.44 88.9 L417.67 89.3 L417.86 89.7 L417.97 90.1 L418 90.5 L418 90.9 L418 91.3 L418 91.7 L418 92.1 L417.99 92.5 L417.9 92.9 L417.76 93.3 L417.58 93.7 L417.4 94.1 L417.23 94.5 L417.09 94.9 L416.92 95.3 L416.78 95.7 L416.7 96.1 L416.71 96.5 L416.77 96.9 L416.87 97.3 L416.99 97.7 L417.13 98.1 L417.29 98.5 L417.54 98.9 L417.87 99.3 L418.24 99.7 L418.62 100.1 L418.99 100.5 L419.45 100.9 L419.94 101.3 L420.42 101.7 L420.84 102.1 L421.15 102.5 L421.34 102.9 L421.52 103.3 L421.66 103.7 L421.76 104.1 L421.8 104.5 L421.75 104.9 L421.61 105.3 L421.41 105.7 L421.18 106.1 L420.94 106.5 L420.61 106.9 L420.19 107.3 L419.72 107.7 L419.22 108.1 L418.73 108.5 L418.27 108.9 L417.79 109.3 L417.3 109.7 L416.81 110.1 L416.34 110.5 L415.9 110.9 L415.5 111.3 L415.1 111.7 L414.72 112.1 L414.36 112.5 L414.05 112.9 L413.8 113.3 L413.59 113.7 L413.4 114.1 L413.23 114.5 L413.09 114.9 L413 115.3 L396.6 115.3 L396.51 114.9 L396.37 114.5 L396.2 114.1 L396.01 113.7 L395.8 113.3 L395.55 112.9 L395.24 112.5 L394.88 112.1 L394.5 111.7 L394.1 111.3 L393.7 110.9 L393.26 110.5 L392.79 110.1 L392.3 109.7 L391.81 109.3 L391.33 108.9 L390.87 108.5 L390.38 108.1 L389.88 107.7 L389.41 107.3 L388.99 106.9 L388.66 106.5 L388.42 106.1 L388.19 105.7 L387.99 105.3 L387.85 104.9 L387.8 104.5 L387.84 104.1 L387.94 103.7 L388.08 103.3 L388.26 102.9 L388.45 102.5 L388.76 102.1 L389.18 101.7 L389.66 101.3 L390.15 100.9 L390.61 100.5 L390.98 100.1 L391.36 99.7 L391.73 99.3 L392.06 98.9 L392.31 98.5 L392.47 98.1 L392.61 97.7 L392.73 97.3 L392.83 96.9 L392.89 96.5 L392.9 96.1 L392.82 95.7 L392.68 95.3 L392.51 94.9 L392.37 94.5 L392.2 94.1 L392.02 93.7 L391.84 93.3 L391.7 92.9 L391.61 92.5 L391.6 92.1 L391.6 91.7 L391.6 91.3 L391.6 90.9 L391.6 90.5 L391.63 90.1 L391.74 89.7 L391.93 89.3 L392.16 88.9 L392.43 88.5 L392.7 88.1 L393.03 87.7 L393.44 87.3 L393.92 86.9 L394.45 86.5 L394.99 86.1 L395.54 85.7 L396.1 85.3 L396.7 84.9 L397.34 84.5 L398 84.1Z" fill="#82a9f8"/>
<path d="M283 139.1 L283.72 139.5 L284.34 139.9 L284.82 140.3 L285.13 140.7 L285.41 141.1 L285.65 141.5 L285.82 141.9 L285.9 142.3 L285.9 142.7 L285.89 143.1 L285.88 143.5 L285.86 143.9 L285.83 144.3 L285.8 144.7 L285.72 145.1 L285.55 145.5 L285.33 145.9 L285.09 146.3 L284.84 146.7 L284.55 147.1 L284.21 147.5 L283.85 147.9 L283.47 148.3 L283.08 148.7 L282.72 149.1 L282.33 149.5 L281.94 149.9 L281.55 150.3 L281.17 150.7 L280.79 151.1 L280.43 151.5 L280.07 151.9 L279.71 152.3 L279.37 152.7 L279.05 153.1 L278.75 153.5 L278.45 153.9 L278.16 154.3 L277.9 154.7 L277.68 155.1 L277.52 155.5 L277.38 155.9 L277.26 156.3 L277.2 156.7 L277.23 157.1 L277.35 157.5 L277.54 157.9 L277.76 158.3 L278 158.7 L278.28 159.1 L278.65 159.5 L279.07 159.9 L279.52 160.3 L279.97 160.7 L280.41 161.1 L280.86 161.5 L281.33 161.9 L281.81 162.3 L282.27 162.7 L282.7 163.1 L283.09 163.5 L283.47 163.9 L283.83 164.3 L284.18 164.7 L284.48 165.1 L284.74 165.5 L284.97 165.9 L285.2 166.3 L285.4 166.7 L285.55 167.1 L285.6 167.5 L285.59 167.9 L285.58 168.3 L285.54 168.7 L285.5 169.1 L285.26 169.5 L284.75 169.9 L284.3 170.2 L253.5 170.2 L253.05 169.9 L252.54 169.5 L252.3 169.1 L252.26 168.7 L252.22 168.3 L252.21 167.9 L252.2 167.5 L252.25 167.1 L252.4 166.7 L252.6 166.3 L252.83 165.9 L253.06 165.5 L253.32 165.1 L253.62 164.7 L253.97 164.3 L254.33 163.9 L254.71 163.5 L255.1 163.1 L255.53 162.7 L255.99 162.3 L256.47 161.9 L256.94 161.5 L257.39 161.1 L257.83 160.7 L258.28 160.3 L258.73 159.9 L259.15 159.5 L259.52 159.1 L259.8 158.7 L260.04 158.3 L260.26 157.9 L260.45 157.5 L260.57 157.1 L260.6 156.7 L260.54 156.3 L260.42 155.9 L260.28 155.5 L260.12 155.1 L259.9 154.7 L259.64 154.3 L259.35 153.9 L259.05 153.5 L258.75 153.1 L258.43 152.7 L258.09 152.3 L257.73 151.9 L257.37 151.5 L257.01 151.1 L256.63 150.7 L256.25 150.3 L255.86 149.9 L255.47 149.5 L255.08 149.1 L254.72 148.7 L254.33 148.3 L253.95 147.9 L253.59 147.5 L253.25 147.1 L252.96 146.7 L252.71 146.3 L252.47 145.9 L252.25 145.5 L252.08 145.1 L252 144.7 L251.97 144.3 L251.94 143.9 L251.92 143.5 L251.91 143.1 L251.9 142.7 L251.9 142.3 L251.98 141.9 L252.15 141.5 L252.39 141.1 L252.67 140.7 L252.98 140.3 L253.46 139.9 L254.08 139.5 L254.8 139.1Z" fill="#c3fc7e"/>
<path d="M350.2 139.1 L351.06 139.5 L351.82 139.9 L352.39 140.3 L352.79 140.7 L353.16 141.1 L353.47 141.5 L353.69 141.9 L353.8 142.3 L353.8 142.7 L353.8 143.1 L353.8 143.5 L353.8 143.9 L353.8 144.3 L353.74 144.7 L353.58 145.1 L353.35 145.5 L353.1 145.9 L352.83 146.3 L352.53 146.7 L352.16 147.1 L351.75 147.5 L351.31 147.9 L350.84 148.3 L350.35 148.7 L349.82 149.1 L349.24 149.5 L348.63 149.9 L347.99 150.3 L347.36 150.7 L346.71 151.1 L346 151.5 L345.28 151.9 L344.57 152.3 L343.9 152.7 L343.3 153.1 L342.76 153.5 L342.24 153.9 L341.77 154.3 L341.37 154.7 L341.04 155.1 L340.72 155.5 L340.43 155.9 L340.21 156.3 L340.1 156.7 L340.13 157.1 L340.27 157.5 L340.48 157.9 L340.73 158.3 L341.07 158.7 L341.59 159.1 L342.24 159.5 L342.94 159.9 L343.6 160.3 L344.24 160.7 L344.91 161.1 L345.58 161.5 L346.26 161.9 L346.92 162.3 L347.56 162.7 L348.22 163.1 L348.89 163.5 L349.53 163.9 L350.12 164.3 L350.61 164.7 L350.98 165.1 L351.33 165.5 L351.64 165.9 L351.88 166.3 L351.99 166.7 L352 167.1 L352 167.5 L352 167.9 L352 168.3 L351.88 168.7 L351.55 169.1 L351.07 169.5 L350.48 169.9 L350 170.2 L323.6 170.2 L323.12 169.9 L322.53 169.5 L322.05 169.1 L321.72 168.7 L321.6 168.3 L321.6 167.9 L321.6 167.5 L321.6 167.1 L321.61 166.7 L321.72 166.3 L321.96 165.9 L322.27 165.5 L322.62 165.1 L322.99 164.7 L323.48 164.3 L324.07 163.9 L324.71 163.5 L325.38 163.1 L326.04 162.7 L326.68 162.3 L327.34 161.9 L328.02 161.5 L328.69 161.1 L329.36 160.7 L330 160.3 L330.66 159.9 L331.36 159.5 L332.01 159.1 L332.53 158.7 L332.87 158.3 L333.12 157.9 L333.33 157.5 L333.47 157.1 L333.5 156.7 L333.39 156.3 L333.17 155.9 L332.88 155.5 L332.56 155.1 L332.23 154.7 L331.83 154.3 L331.36 153.9 L330.84 153.5 L330.3 153.1 L329.7 152.7 L329.03 152.3 L328.32 151.9 L327.6 151.5 L326.89 151.1 L326.24 150.7 L325.61 150.3 L324.97 149.9 L324.36 149.5 L323.78 149.1 L323.25 148.7 L322.76 148.3 L322.29 147.9 L321.85 147.5 L321.44 147.1 L321.07 146.7 L320.77 146.3 L320.5 145.9 L320.25 145.5 L320.02 145.1 L319.86 144.7 L319.8 144.3 L319.8 143.9 L319.8 143.5 L319.8 143.1 L319.8 142.7 L319.8 142.3 L319.91 141.9 L320.13 141.5 L320.44 141.1 L320.81 140.7 L321.21 140.3 L321.78 139.9 L322.54 139.5 L323.4 139.1Z" fill="#e8817f"/>
<path d="M413.8 139.1 L414.52 139.5 L415.2 139.9 L415.82 140.3 L416.37 140.7 L416.87 141.1 L417.34 141.5 L417.78 141.9 L418.18 142.3 L418.52 142.7 L418.8 143.1 L419.05 143.5 L419.29 143.9 L419.5 144.3 L419.67 144.7 L419.77 145.1 L419.8 145.5 L419.8 145.9 L419.8 146.3 L419.8 146.7 L419.8 147.1 L419.78 147.5 L419.65 147.9 L419.42 148.3 L419.13 148.7 L418.8 149.1 L418.48 149.5 L418.16 149.9 L417.78 150.3 L417.37 150.7 L416.94 151.1 L416.51 151.5 L416.1 151.9 L415.68 152.3 L415.24 152.7 L414.79 153.1 L414.38 153.5 L414.02 153.9 L413.73 154.3 L413.48 154.7 L413.26 155.1 L413.12 155.5 L413.06 155.9 L413.02 156.3 L413 156.7 L413.05 157.1 L413.24 157.5 L413.52 157.9 L413.86 158.3 L414.2 158.7 L414.57 159.1 L415.01 159.5 L415.49 159.9 L416 160.3 L416.5 160.7 L417.03 161.1 L417.59 161.5 L418.17 161.9 L418.73 162.3 L419.26 162.7 L419.71 163.1 L420.14 163.5 L420.54 163.9 L420.91 164.3 L421.19 164.7 L421.39 165.1 L421.57 165.5 L421.73 165.9 L421.84 166.3 L421.9 166.7 L421.89 167.1 L421.82 167.5 L421.73 167.9 L421.6 168.3 L421.35 168.7 L420.91 169.1 L420.35 169.5 L419.62 169.9 L418.6 170.3 L391 170.3 L389.98 169.9 L389.25 169.5 L388.69 169.1 L388.25 168.7 L388 168.3 L387.87 167.9 L387.78 167.5 L387.71 167.1 L387.7 166.7 L387.76 166.3 L387.87 165.9 L388.03 165.5 L388.21 165.1 L388.41 164.7 L388.69 164.3 L389.06 163.9 L389.46 163.5 L389.89 163.1 L390.34 162.7 L390.87 162.3 L391.43 161.9 L392.01 161.5 L392.57 161.1 L393.1 160.7 L393.6 160.3 L394.11 159.9 L394.59 159.5 L395.03 159.1 L395.4 158.7 L395.74 158.3 L396.08 157.9 L396.36 157.5 L396.55 157.1 L396.6 156.7 L396.58 156.3 L396.54 155.9 L396.48 155.5 L396.34 155.1 L396.12 154.7 L395.87 154.3 L395.58 153.9 L395.22 153.5 L394.81 153.1 L394.36 152.7 L393.92 152.3 L393.5 151.9 L393.09 151.5 L392.66 151.1 L392.23 150.7 L391.82 150.3 L391.44 149.9 L391.12 149.5 L390.8 149.1 L390.47 148.7 L390.18 148.3 L389.95 147.9 L389.82 147.5 L389.8 147.1 L389.8 146.7 L389.8 146.3 L389.8 145.9 L389.8 145.5 L389.83 145.1 L389.93 144.7 L390.1 144.3 L390.31 143.9 L390.55 143.5 L390.8 143.1 L391.08 142.7 L391.42 142.3 L391.82 141.9 L392.26 141.5 L392.73 141.1 L393.23 140.7 L393.78 140.3 L394.4 139.9 L395.08 139.5 L395.8 139.1Z" fill="#82a9f8"/>
<path d="M279.5 194.3 L280.04 194.7 L280.57 195.1 L281.08 195.5 L281.57 195.9 L282.05 196.3 L282.51 196.7 L282.98 197.1 L283.46 197.5 L283.9 197.9 L284.31 198.3 L284.66 198.7 L284.93 199.1 L285.2 199.5 L285.45 199.9 L285.67 200.3 L285.82 200.7 L285.9 201.1 L285.9 201.5 L285.88 201.9 L285.84 202.3 L285.8 202.7 L285.75 203.1 L285.7 203.5 L285.63 203.9 L285.54 204.3 L285.42 204.7 L285.29 205.1 L285.15 205.5 L285.01 205.9 L284.86 206.3 L284.7 206.7 L284.51 207.1 L284.32 207.5 L284.12 207.9 L283.92 208.3 L283.74 208.7 L283.58 209.1 L283.42 209.5 L283.27 209.9 L283.12 210.3 L282.97 210.7 L282.83 211.1 L282.7 211.5 L282.57 211.9 L282.45 212.3 L282.33 212.7 L282.22 213.1 L282.11 213.5 L282 213.9 L281.9 214.3 L281.79 214.7 L281.68 215.1 L281.56 215.5 L281.44 215.9 L281.32 216.3 L281.19 216.7 L281.07 217.1 L280.93 217.5 L280.8 217.9 L280.65 218.3 L280.5 218.7 L280.34 219.1 L280.16 219.5 L279.97 219.9 L279.78 220.3 L279.58 220.7 L279.36 221.1 L279.14 221.5 L278.91 221.9 L278.66 222.3 L278.4 222.7 L278.13 223.1 L277.87 223.5 L277.6 223.9 L277.33 224.3 L277.05 224.7 L276.77 225.1 L276.7 225.2 L261.1 225.2 L261.03 225.1 L260.75 224.7 L260.47 224.3 L260.2 223.9 L259.93 223.5 L259.67 223.1 L259.4 222.7 L259.14 222.3 L258.89 221.9 L258.66 221.5 L258.44 221.1 L258.22 220.7 L258.02 220.3 L257.83 219.9 L257.64 219.5 L257.46 219.1 L257.3 218.7 L257.15 218.3 L257 217.9 L256.87 217.5 L256.73 217.1 L256.61 216.7 L256.48 216.3 L256.36 215.9 L256.24 215.5 L256.12 215.1 L256.01 214.7 L255.9 214.3 L255.8 213.9 L255.69 213.5 L255.58 213.1 L255.47 212.7 L255.35 212.3 L255.23 211.9 L255.1 211.5 L254.97 211.1 L254.83 210.7 L254.68 210.3 L254.53 209.9 L254.38 209.5 L254.22 209.1 L254.06 208.7 L253.88 208.3 L253.68 207.9 L253.48 207.5 L253.29 207.1 L253.1 206.7 L252.94 206.3 L252.79 205.9 L252.65 205.5 L252.51 205.1 L252.38 204.7 L252.26 204.3 L252.17 203.9 L252.1 203.5 L252.05 203.1 L252 202.7 L251.96 202.3 L251.92 201.9 L251.9 201.5 L251.9 201.1 L251.98 200.7 L252.13 200.3 L252.35 199.9 L252.6 199.5 L252.87 199.1 L253.14 198.7 L253.49 198.3 L253.9 197.9 L254.34 197.5 L254.82 197.1 L255.29 196.7 L255.75 196.3 L256.23 195.9 L256.72 195.5 L257.23 195.1 L257.76 194.7 L258.3 194.3Z" fill="#c3fc7e"/>
<path d="M353.8 194.5 L353.67 194.9 L353.52 195.3 L353.34 195.7 L353.15 196.1 L352.95 196.5 L352.73 196.9 L352.47 197.3 L352.18 197.7 L351.89 198.1 L351.59 198.5 L351.3 198.9 L351.01 199.3 L350.7 199.7 L350.4 200.1 L350.11 200.5 L349.86 200.9 L349.65 201.3 L349.48 201.7 L349.31 202.1 L349.17 202.5 L349.04 202.9 L348.94 203.3 L348.86 203.7 L348.79 204.1 L348.72 204.5 L348.66 204.9 L348.62 205.3 L348.6 205.7 L348.6 206.1 L348.61 206.5 L348.62 206.9 L348.63 207.3 L348.65 207.7 L348.68 208.1 L348.7 208.5 L348.74 208.9 L348.81 209.3 L348.9 209.7 L349 210.1 L349.12 210.5 L349.24 210.9 L349.37 211.3 L349.52 211.7 L349.69 212.1 L349.88 212.5 L350.08 212.9 L350.29 213.3 L350.5 213.7 L350.74 214.1 L351 214.5 L351.28 214.9 L351.54 215.3 L351.77 215.7 L351.94 216.1 L352.08 216.5 L352.23 216.9 L352.35 217.3 L352.44 217.7 L352.49 218.1 L352.5 218.5 L352.5 218.9 L352.5 219.3 L352.5 219.7 L352.5 220.1 L352.5 220.5 L352.5 220.9 L352.49 221.3 L352.47 221.7 L352.42 222.1 L352.36 222.5 L352.28 222.9 L352.2 223.3 L352.09 223.7 L351.92 224.1 L351.67 224.5 L351.21 224.9 L350.4 225.3 L323.2 225.3 L322.39 224.9 L321.93 224.5 L321.68 224.1 L321.51 223.7 L321.4 223.3 L321.32 222.9 L321.24 222.5 L321.18 222.1 L321.13 221.7 L321.11 221.3 L321.1 220.9 L321.1 220.5 L321.1 220.1 L321.1 219.7 L321.1 219.3 L321.1 218.9 L321.1 218.5 L321.11 218.1 L321.16 217.7 L321.25 217.3 L321.37 216.9 L321.52 216.5 L321.66 216.1 L321.83 215.7 L322.06 215.3 L322.32 214.9 L322.6 214.5 L322.86 214.1 L323.1 213.7 L323.31 213.3 L323.52 212.9 L323.72 212.5 L323.91 212.1 L324.08 211.7 L324.23 211.3 L324.36 210.9 L324.48 210.5 L324.6 210.1 L324.7 209.7 L324.79 209.3 L324.86 208.9 L324.9 208.5 L324.92 208.1 L324.95 207.7 L324.97 207.3 L324.98 206.9 L324.99 206.5 L325 206.1 L325 205.7 L324.98 205.3 L324.94 204.9 L324.88 204.5 L324.81 204.1 L324.74 203.7 L324.66 203.3 L324.56 202.9 L324.43 202.5 L324.29 202.1 L324.12 201.7 L323.95 201.3 L323.74 200.9 L323.49 200.5 L323.2 200.1 L322.9 199.7 L322.59 199.3 L322.3 198.9 L322.01 198.5 L321.71 198.1 L321.42 197.7 L321.13 197.3 L320.87 196.9 L320.65 196.5 L320.45 196.1 L320.26 195.7 L320.08 195.3 L319.93 194.9 L319.8 194.5Z" fill="#e8817f"/>
<path d="M420 194.3 L420.52 194.7 L420.99 195.1 L421.35 195.5 L421.53 195.9 L421.64 196.3 L421.74 196.7 L421.82 197.1 L421.87 197.5 L421.9 197.9 L421.9 198.3 L421.88 198.7 L421.84 199.1 L421.79 199.5 L421.72 199.9 L421.66 200.3 L421.59 200.7 L421.52 201.1 L421.45 201.5 L421.37 201.9 L421.28 202.3 L421.19 202.7 L421.1 203.1 L421 203.5 L420.9 203.9 L420.8 204.3 L420.7 204.7 L420.59 205.1 L420.47 205.5 L420.36 205.9 L420.25 206.3 L420.14 206.7 L420.04 207.1 L419.96 207.5 L419.87 207.9 L419.79 208.3 L419.72 208.7 L419.64 209.1 L419.57 209.5 L419.5 209.9 L419.43 210.3 L419.37 210.7 L419.31 211.1 L419.24 211.5 L419.19 211.9 L419.13 212.3 L419.08 212.7 L419.03 213.1 L418.98 213.5 L418.93 213.9 L418.88 214.3 L418.83 214.7 L418.78 215.1 L418.73 215.5 L418.67 215.9 L418.62 216.3 L418.56 216.7 L418.51 217.1 L418.45 217.5 L418.39 217.9 L418.33 218.3 L418.26 218.7 L418.18 219.1 L418.1 219.5 L418.01 219.9 L417.9 220.3 L417.78 220.7 L417.65 221.1 L417.5 221.5 L417.34 221.9 L417.15 222.3 L416.93 222.7 L416.66 223.1 L416.34 223.5 L415.99 223.9 L415.59 224.3 L415.09 224.7 L414.51 225.1 L414.2 225.3 L395.4 225.3 L395.09 225.1 L394.51 224.7 L394.01 224.3 L393.61 223.9 L393.26 223.5 L392.94 223.1 L392.67 222.7 L392.45 222.3 L392.26 221.9 L392.1 221.5 L391.95 221.1 L391.82 220.7 L391.7 220.3 L391.59 219.9 L391.5 219.5 L391.42 219.1 L391.34 218.7 L391.27 218.3 L391.21 217.9 L391.15 217.5 L391.09 217.1 L391.04 216.7 L390.98 216.3 L390.93 215.9 L390.87 215.5 L390.82 215.1 L390.77 214.7 L390.72 214.3 L390.67 213.9 L390.62 213.5 L390.57 213.1 L390.52 212.7 L390.47 212.3 L390.41 211.9 L390.36 211.5 L390.29 211.1 L390.23 210.7 L390.17 210.3 L390.1 209.9 L390.03 209.5 L389.96 209.1 L389.88 208.7 L389.81 208.3 L389.73 207.9 L389.64 207.5 L389.56 207.1 L389.46 206.7 L389.35 206.3 L389.24 205.9 L389.13 205.5 L389.01 205.1 L388.9 204.7 L388.8 204.3 L388.7 203.9 L388.6 203.5 L388.5 203.1 L388.41 202.7 L388.32 202.3 L388.23 201.9 L388.15 201.5 L388.08 201.1 L388.01 200.7 L387.94 200.3 L387.88 199.9 L387.81 199.5 L387.76 199.1 L387.72 198.7 L387.7 198.3 L387.7 197.9 L387.73 197.5 L387.78 197.1 L387.86 196.7 L387.96 196.3 L388.07 195.9 L388.25 195.5 L388.61 195.1 L389.08 194.7 L389.6 194.3Z" fill="#82a9f8"/>
<path d="M528.8 50.9 L528.37 51.3 L527.93 51.7 L527.5 52.1 L527.06 52.5 L526.61 52.9 L526.15 53.3 L525.64 53.7 L525.13 54.1 L524.65 54.5 L524.24 54.9 L523.93 55.3 L523.65 55.7 L523.41 56.1 L523.24 56.5 L523.21 56.9 L523.4 57.3 L523.8 57.7 L524.34 58.1 L524.98 58.5 L526.16 58.9 L527.81 59.3 L529.58 59.7 L531.18 60.1 L532.72 60.5 L534.26 60.9 L535.75 61.3 L537.1 61.7 L538.34 62.1 L539.51 62.5 L540.57 62.9 L541.5 63.3 L542.32 63.7 L543.09 64.1 L543.79 64.5 L544.4 64.9 L544.9 65.3 L480.1 65.3 L480.6 64.9 L481.21 64.5 L481.91 64.1 L482.68 63.7 L483.5 63.3 L484.43 62.9 L485.49 62.5 L486.66 62.1 L487.9 61.7 L489.25 61.3 L490.74 60.9 L492.28 60.5 L493.82 60.1 L495.42 59.7 L497.19 59.3 L498.84 58.9 L500.02 58.5 L500.66 58.1 L501.2 57.7 L501.6 57.3 L501.79 56.9 L501.76 56.5 L501.59 56.1 L501.35 55.7 L501.07 55.3 L500.76 54.9 L500.35 54.5 L499.87 54.1 L499.36 53.7 L498.85 53.3 L498.39 52.9 L497.94 52.5 L497.5 52.1 L497.07 51.7 L496.63 51.3 L496.2 50.9Z" fill="#ef7f5b"/>
<path d="M673.6 29.2 L674.32 29.6 L674.82 30 L674.9 30.4 L674.87 30.8 L674.82 31.2 L674.76 31.6 L674.67 32 L674.44 32.4 L674.05 32.8 L673.56 33.2 L673.02 33.6 L672.5 34 L671.98 34.4 L671.41 34.8 L670.81 35.2 L670.17 35.6 L669.49 36 L668.76 36.4 L668 36.8 L667.15 37.2 L666.21 37.6 L665.2 38 L664.18 38.4 L663.15 38.8 L662.17 39.2 L661.24 39.6 L660.31 40 L659.38 40.4 L658.46 40.8 L657.58 41.2 L656.75 41.6 L655.98 42 L655.27 42.4 L654.59 42.8 L653.94 43.2 L653.35 43.6 L652.83 44 L652.4 44.4 L652.01 44.8 L651.66 45.2 L651.35 45.6 L651.09 46 L650.9 46.4 L650.76 46.8 L650.65 47.2 L650.55 47.6 L650.46 48 L650.38 48.4 L650.3 48.8 L650.2 49.2 L650.1 49.6 L650 50 L649.91 50.4 L649.81 50.8 L649.71 51.2 L649.6 51.6 L649.48 52 L649.34 52.4 L649.17 52.8 L648.94 53.2 L648.67 53.6 L648.38 54 L648.1 54.4 L647.83 54.8 L647.6 55.2 L647.38 55.6 L647.15 56 L646.97 56.4 L646.9 56.8 L646.99 57.2 L647.21 57.6 L647.5 58 L647.8 58.4 L648.12 58.8 L648.5 59.2 L648.92 59.6 L649.36 60 L649.79 60.4 L650.21 60.8 L650.65 61.2 L651.09 61.6 L651.53 62 L651.93 62.4 L652.28 62.8 L652.61 63.2 L652.92 63.6 L653.21 64 L653.48 64.4 L653.73 64.8 L653.95 65.2 L654 65.3 L631 65.3 L631.05 65.2 L631.27 64.8 L631.52 64.4 L631.79 64 L632.08 63.6 L632.39 63.2 L632.72 62.8 L633.07 62.4 L633.47 62 L633.91 61.6 L634.35 61.2 L634.79 60.8 L635.21 60.4 L635.64 60 L636.08 59.6 L636.5 59.2 L636.88 58.8 L637.2 58.4 L637.5 58 L637.79 57.6 L638.01 57.2 L638.1 56.8 L638.03 56.4 L637.85 56 L637.62 55.6 L637.4 55.2 L637.17 54.8 L636.9 54.4 L636.62 54 L636.33 53.6 L636.06 53.2 L635.83 52.8 L635.66 52.4 L635.52 52 L635.4 51.6 L635.29 51.2 L635.19 50.8 L635.09 50.4 L635 50 L634.9 49.6 L634.8 49.2 L634.7 48.8 L634.62 48.4 L634.54 48 L634.45 47.6 L634.35 47.2 L634.24 46.8 L634.1 46.4 L633.91 46 L633.65 45.6 L633.34 45.2 L632.99 44.8 L632.6 44.4 L632.17 44 L631.65 43.6 L631.06 43.2 L630.41 42.8 L629.73 42.4 L629.02 42 L628.25 41.6 L627.42 41.2 L626.54 40.8 L625.62 40.4 L624.69 40 L623.76 39.6 L622.83 39.2 L621.85 38.8 L620.82 38.4 L619.8 38 L618.79 37.6 L617.85 37.2 L617 36.8 L616.24 36.4 L615.51 36 L614.83 35.6 L614.19 35.2 L613.59 34.8 L613.02 34.4 L612.5 34 L611.98 33.6 L611.44 33.2 L610.95 32.8 L610.56 32.4 L610.33 32 L610.24 31.6 L610.18 31.2 L610.13 30.8 L610.1 30.4 L610.18 30 L610.68 29.6 L611.4 29.2Z" fill="#e06182"/>
<path d="M540.8 90.1 L541.7 90.5 L542.38 90.9 L542.8 91.3 L543.12 91.7 L543.3 92.1 L543.39 92.5 L543.47 92.9 L543.53 93.3 L543.57 93.7 L543.59 94.1 L543.6 94.5 L543.55 94.9 L543.46 95.3 L543.33 95.7 L543.17 96.1 L542.99 96.5 L542.8 96.9 L542.61 97.3 L542.43 97.7 L542.27 98.1 L542.13 98.5 L541.99 98.9 L541.84 99.3 L541.68 99.7 L541.53 100.1 L541.4 100.5 L541.28 100.9 L541.18 101.3 L541.12 101.7 L541.1 102.1 L541.11 102.5 L541.15 102.9 L541.2 103.3 L541.27 103.7 L541.35 104.1 L541.44 104.5 L541.54 104.9 L541.64 105.3 L541.75 105.7 L541.86 106.1 L541.99 106.5 L542.16 106.9 L542.35 107.3 L542.55 107.7 L542.77 108.1 L542.98 108.5 L543.2 108.9 L543.4 109.3 L543.59 109.7 L543.76 110.1 L543.9 110.5 L544.03 110.9 L544.16 111.3 L544.29 111.7 L544.41 112.1 L544.52 112.5 L544.62 112.9 L544.71 113.3 L544.76 113.7 L544.8 114.1 L544.8 114.5 L544.8 114.9 L544.8 115.3 L544.8 115.7 L544.8 116.1 L544.8 116.5 L544.8 116.9 L544.8 117.3 L544.76 117.7 L544.62 118.1 L544.39 118.5 L544.1 118.9 L543.78 119.3 L543.41 119.7 L542.9 120.1 L542.28 120.5 L541.6 120.9 L483.4 120.9 L482.72 120.5 L482.1 120.1 L481.59 119.7 L481.22 119.3 L480.9 118.9 L480.61 118.5 L480.38 118.1 L480.24 117.7 L480.2 117.3 L480.2 116.9 L480.2 116.5 L480.2 116.1 L480.2 115.7 L480.2 115.3 L480.2 114.9 L480.2 114.5 L480.2 114.1 L480.24 113.7 L480.29 113.3 L480.38 112.9 L480.48 112.5 L480.59 112.1 L480.71 111.7 L480.84 111.3 L480.97 110.9 L481.1 110.5 L481.24 110.1 L481.41 109.7 L481.6 109.3 L481.8 108.9 L482.02 108.5 L482.23 108.1 L482.45 107.7 L482.65 107.3 L482.84 106.9 L483.01 106.5 L483.14 106.1 L483.25 105.7 L483.36 105.3 L483.46 104.9 L483.56 104.5 L483.65 104.1 L483.73 103.7 L483.8 103.3 L483.85 102.9 L483.89 102.5 L483.9 102.1 L483.88 101.7 L483.82 101.3 L483.72 100.9 L483.6 100.5 L483.47 100.1 L483.32 99.7 L483.16 99.3 L483.01 98.9 L482.87 98.5 L482.73 98.1 L482.57 97.7 L482.39 97.3 L482.2 96.9 L482.01 96.5 L481.83 96.1 L481.67 95.7 L481.54 95.3 L481.45 94.9 L481.4 94.5 L481.41 94.1 L481.43 93.7 L481.47 93.3 L481.53 92.9 L481.61 92.5 L481.7 92.1 L481.88 91.7 L482.2 91.3 L482.62 90.9 L483.3 90.5 L484.2 90.1Z" fill="#ef7f5b"/>
<path d="M673 84.2 L673.64 84.6 L674.1 85 L674.42 85.4 L674.6 85.8 L674.64 86.2 L674.68 86.6 L674.71 87 L674.74 87.4 L674.76 87.8 L674.78 88.2 L674.79 88.6 L674.8 89 L674.8 89.4 L674.8 89.8 L674.79 90.2 L674.78 90.6 L674.77 91 L674.75 91.4 L674.73 91.8 L674.7 92.2 L674.67 92.6 L674.63 93 L674.59 93.4 L674.46 93.8 L674.24 94.2 L673.94 94.6 L673.57 95 L673.16 95.4 L672.73 95.8 L672.25 96.2 L671.6 96.6 L670.82 97 L669.96 97.4 L669.07 97.8 L668.2 98.2 L667.33 98.6 L666.4 99 L665.46 99.4 L664.54 99.8 L663.69 100.2 L662.92 100.6 L662.15 101 L661.42 101.4 L660.78 101.8 L660.29 102.2 L659.94 102.6 L659.62 103 L659.39 103.4 L659.3 103.8 L659.41 104.2 L659.68 104.6 L660.03 105 L660.39 105.4 L660.66 105.8 L660.82 106.2 L660.97 106.6 L661.11 107 L661.22 107.4 L661.28 107.8 L661.29 108.2 L661.18 108.6 L660.94 109 L660.63 109.4 L660.29 109.8 L659.97 110.2 L659.66 110.6 L659.28 111 L658.87 111.4 L658.47 111.8 L658.13 112.2 L657.89 112.6 L657.8 113 L657.83 113.4 L657.91 113.8 L658.03 114.2 L658.19 114.6 L658.36 115 L658.58 115.4 L658.93 115.8 L659.37 116.2 L659.84 116.6 L660.3 117 L660.69 117.4 L661.07 117.8 L661.44 118.2 L661.81 118.6 L662.16 119 L662.49 119.4 L662.77 119.8 L663.01 120.2 L663.21 120.6 L663.3 120.8 L621.7 120.8 L621.79 120.6 L621.99 120.2 L622.23 119.8 L622.51 119.4 L622.84 119 L623.19 118.6 L623.56 118.2 L623.93 117.8 L624.31 117.4 L624.7 117 L625.16 116.6 L625.63 116.2 L626.07 115.8 L626.42 115.4 L626.64 115 L626.81 114.6 L626.97 114.2 L627.09 113.8 L627.17 113.4 L627.2 113 L627.11 112.6 L626.87 112.2 L626.53 111.8 L626.13 111.4 L625.72 111 L625.34 110.6 L625.03 110.2 L624.71 109.8 L624.37 109.4 L624.06 109 L623.82 108.6 L623.71 108.2 L623.72 107.8 L623.78 107.4 L623.89 107 L624.03 106.6 L624.18 106.2 L624.34 105.8 L624.61 105.4 L624.97 105 L625.32 104.6 L625.59 104.2 L625.7 103.8 L625.61 103.4 L625.38 103 L625.06 102.6 L624.71 102.2 L624.22 101.8 L623.58 101.4 L622.85 101 L622.08 100.6 L621.31 100.2 L620.46 99.8 L619.54 99.4 L618.6 99 L617.67 98.6 L616.8 98.2 L615.93 97.8 L615.04 97.4 L614.18 97 L613.4 96.6 L612.75 96.2 L612.27 95.8 L611.84 95.4 L611.43 95 L611.06 94.6 L610.76 94.2 L610.54 93.8 L610.41 93.4 L610.37 93 L610.33 92.6 L610.3 92.2 L610.27 91.8 L610.25 91.4 L610.23 91 L610.22 90.6 L610.21 90.2 L610.2 89.8 L610.2 89.4 L610.2 89 L610.21 88.6 L610.22 88.2 L610.24 87.8 L610.26 87.4 L610.29 87 L610.32 86.6 L610.36 86.2 L610.4 85.8 L610.58 85.4 L610.9 85 L611.36 84.6 L612 84.2Z" fill="#e06182"/>
<path d="M532.9 139.4 L533.28 139.8 L533.62 140.2 L533.89 140.6 L534.06 141 L534.1 141.4 L534.09 141.8 L534.06 142.2 L534.02 142.6 L533.97 143 L533.91 143.4 L533.84 143.8 L533.7 144.2 L533.51 144.6 L533.29 145 L533.05 145.4 L532.8 145.8 L532.56 146.2 L532.35 146.6 L532.16 147 L531.96 147.4 L531.76 147.8 L531.57 148.2 L531.38 148.6 L531.2 149 L531.03 149.4 L530.87 149.8 L530.73 150.2 L530.58 150.6 L530.43 151 L530.28 151.4 L530.15 151.8 L530.03 152.2 L529.95 152.6 L529.91 153 L529.9 153.4 L529.94 153.8 L530.01 154.2 L530.1 154.6 L530.21 155 L530.33 155.4 L530.47 155.8 L530.62 156.2 L530.83 156.6 L531.08 157 L531.37 157.4 L531.69 157.8 L532.02 158.2 L532.36 158.6 L532.75 159 L533.17 159.4 L533.63 159.8 L534.11 160.2 L534.6 160.6 L535.13 161 L535.71 161.4 L536.31 161.8 L536.93 162.2 L537.55 162.6 L538.15 163 L538.74 163.4 L539.35 163.8 L539.97 164.2 L540.57 164.6 L541.14 165 L541.66 165.4 L542.1 165.8 L542.49 166.2 L542.86 166.6 L543.2 167 L543.52 167.4 L543.8 167.8 L544.04 168.2 L544.25 168.6 L544.45 169 L544.65 169.4 L544.81 169.8 L544.94 170.2 L545 170.6 L544.98 171 L544.92 171.4 L544.82 171.8 L544.7 172.2 L544.57 172.6 L544.43 173 L544.28 173.4 L544.09 173.8 L543.84 174.2 L543.51 174.6 L542.97 175 L542.28 175.4 L541.9 175.6 L483.1 175.6 L482.72 175.4 L482.03 175 L481.49 174.6 L481.16 174.2 L480.91 173.8 L480.72 173.4 L480.57 173 L480.43 172.6 L480.3 172.2 L480.18 171.8 L480.08 171.4 L480.02 171 L480 170.6 L480.06 170.2 L480.19 169.8 L480.35 169.4 L480.55 169 L480.75 168.6 L480.96 168.2 L481.2 167.8 L481.48 167.4 L481.8 167 L482.14 166.6 L482.51 166.2 L482.9 165.8 L483.34 165.4 L483.86 165 L484.43 164.6 L485.03 164.2 L485.65 163.8 L486.26 163.4 L486.85 163 L487.45 162.6 L488.07 162.2 L488.69 161.8 L489.29 161.4 L489.87 161 L490.4 160.6 L490.89 160.2 L491.37 159.8 L491.83 159.4 L492.25 159 L492.64 158.6 L492.98 158.2 L493.31 157.8 L493.63 157.4 L493.92 157 L494.17 156.6 L494.38 156.2 L494.53 155.8 L494.67 155.4 L494.79 155 L494.9 154.6 L494.99 154.2 L495.06 153.8 L495.1 153.4 L495.09 153 L495.05 152.6 L494.97 152.2 L494.85 151.8 L494.72 151.4 L494.57 151 L494.42 150.6 L494.27 150.2 L494.13 149.8 L493.97 149.4 L493.8 149 L493.62 148.6 L493.43 148.2 L493.24 147.8 L493.04 147.4 L492.84 147 L492.65 146.6 L492.44 146.2 L492.2 145.8 L491.95 145.4 L491.71 145 L491.49 144.6 L491.3 144.2 L491.16 143.8 L491.09 143.4 L491.03 143 L490.98 142.6 L490.94 142.2 L490.91 141.8 L490.9 141.4 L490.94 141 L491.11 140.6 L491.38 140.2 L491.72 139.8 L492.1 139.4Z" fill="#ef7f5b"/>
<path d="M669.4 139.2 L670.88 139.6 L672.08 140 L672.83 140.4 L673.41 140.8 L673.88 141.2 L674.22 141.6 L674.45 142 L674.62 142.4 L674.77 142.8 L674.89 143.2 L674.97 143.6 L675 144 L674.96 144.4 L674.85 144.8 L674.68 145.2 L674.47 145.6 L674.23 146 L673.94 146.4 L673.49 146.8 L672.88 147.2 L672.19 147.6 L671.45 148 L670.72 148.4 L669.94 148.8 L669.09 149.2 L668.18 149.6 L667.25 150 L666.3 150.4 L665.36 150.8 L664.44 151.2 L663.5 151.6 L662.54 152 L661.58 152.4 L660.62 152.8 L659.67 153.2 L658.73 153.6 L657.8 154 L656.83 154.4 L655.87 154.8 L654.92 155.2 L654.02 155.6 L653.21 156 L652.5 156.4 L651.87 156.8 L651.27 157.2 L650.73 157.6 L650.26 158 L649.88 158.4 L649.58 158.8 L649.29 159.2 L649.04 159.6 L648.86 160 L648.8 160.4 L648.92 160.8 L649.22 161.2 L649.63 161.6 L650.1 162 L650.7 162.4 L651.52 162.8 L652.49 163.2 L653.56 163.6 L654.66 164 L655.76 164.4 L656.97 164.8 L658.28 165.2 L659.61 165.6 L660.9 166 L662.09 166.4 L663.24 166.8 L664.38 167.2 L665.47 167.6 L666.49 168 L667.39 168.4 L668.21 168.8 L669.01 169.2 L669.75 169.6 L670.41 170 L670.92 170.4 L671.27 170.8 L671.56 171.2 L671.81 171.6 L672.01 172 L672.15 172.4 L672.2 172.8 L672.12 173.2 L671.9 173.6 L671.58 174 L671.2 174.4 L670.64 174.8 L669.79 175.2 L668.77 175.6 L668.5 175.7 L616.5 175.7 L616.23 175.6 L615.21 175.2 L614.36 174.8 L613.8 174.4 L613.42 174 L613.1 173.6 L612.88 173.2 L612.8 172.8 L612.85 172.4 L612.99 172 L613.19 171.6 L613.44 171.2 L613.73 170.8 L614.08 170.4 L614.59 170 L615.25 169.6 L615.99 169.2 L616.79 168.8 L617.61 168.4 L618.51 168 L619.53 167.6 L620.62 167.2 L621.76 166.8 L622.91 166.4 L624.1 166 L625.39 165.6 L626.72 165.2 L628.03 164.8 L629.24 164.4 L630.34 164 L631.44 163.6 L632.51 163.2 L633.48 162.8 L634.3 162.4 L634.9 162 L635.37 161.6 L635.78 161.2 L636.08 160.8 L636.2 160.4 L636.14 160 L635.96 159.6 L635.71 159.2 L635.42 158.8 L635.12 158.4 L634.74 158 L634.27 157.6 L633.73 157.2 L633.13 156.8 L632.5 156.4 L631.79 156 L630.98 155.6 L630.08 155.2 L629.13 154.8 L628.17 154.4 L627.2 154 L626.27 153.6 L625.33 153.2 L624.38 152.8 L623.42 152.4 L622.46 152 L621.5 151.6 L620.56 151.2 L619.64 150.8 L618.7 150.4 L617.75 150 L616.82 149.6 L615.91 149.2 L615.06 148.8 L614.28 148.4 L613.55 148 L612.81 147.6 L612.12 147.2 L611.51 146.8 L611.06 146.4 L610.77 146 L610.53 145.6 L610.32 145.2 L610.15 144.8 L610.04 144.4 L610 144 L610.03 143.6 L610.11 143.2 L610.23 142.8 L610.38 142.4 L610.55 142 L610.78 141.6 L611.12 141.2 L611.59 140.8 L612.17 140.4 L612.92 140 L614.12 139.6 L615.6 139.2Z" fill="#e06182"/>
<path d="M535.1 194.2 L535.95 194.6 L536.75 195 L537.51 195.4 L538.21 195.8 L538.85 196.2 L539.43 196.6 L539.98 197 L540.49 197.4 L540.96 197.8 L541.39 198.2 L541.8 198.6 L542.19 199 L542.57 199.4 L542.93 199.8 L543.26 200.2 L543.55 200.6 L543.8 201 L543.99 201.4 L544.17 201.8 L544.33 202.2 L544.47 202.6 L544.59 203 L544.7 203.4 L544.78 203.8 L544.85 204.2 L544.91 204.6 L544.97 205 L545.02 205.4 L545.06 205.8 L545.09 206.2 L545.1 206.6 L545.08 207 L545.03 207.4 L544.95 207.8 L544.85 208.2 L544.73 208.6 L544.6 209 L544.46 209.4 L544.29 209.8 L544.07 210.2 L543.81 210.6 L543.52 211 L543.19 211.4 L542.85 211.8 L542.5 212.2 L542.11 212.6 L541.67 213 L541.18 213.4 L540.66 213.8 L540.11 214.2 L539.54 214.6 L538.95 215 L538.32 215.4 L537.65 215.8 L536.93 216.2 L536.2 216.6 L535.46 217 L534.72 217.4 L534.01 217.8 L533.33 218.2 L532.67 218.6 L532 219 L531.34 219.4 L530.7 219.8 L530.08 220.2 L529.49 220.6 L528.92 221 L528.37 221.4 L527.83 221.8 L527.31 222.2 L526.82 222.6 L526.35 223 L525.91 223.4 L525.49 223.8 L525.11 224.2 L524.74 224.6 L524.39 225 L524.05 225.4 L523.72 225.8 L523.4 226.2 L523.09 226.6 L522.78 227 L522.49 227.4 L522.21 227.8 L521.93 228.2 L521.67 228.6 L521.41 229 L521.15 229.4 L520.91 229.8 L520.67 230.2 L520.5 230.5 L504.5 230.5 L504.33 230.2 L504.09 229.8 L503.85 229.4 L503.59 229 L503.33 228.6 L503.07 228.2 L502.79 227.8 L502.51 227.4 L502.22 227 L501.91 226.6 L501.6 226.2 L501.28 225.8 L500.95 225.4 L500.61 225 L500.26 224.6 L499.89 224.2 L499.51 223.8 L499.09 223.4 L498.65 223 L498.18 222.6 L497.69 222.2 L497.17 221.8 L496.63 221.4 L496.08 221 L495.51 220.6 L494.92 220.2 L494.3 219.8 L493.66 219.4 L493 219 L492.33 218.6 L491.67 218.2 L490.99 217.8 L490.28 217.4 L489.54 217 L488.8 216.6 L488.07 216.2 L487.35 215.8 L486.68 215.4 L486.05 215 L485.46 214.6 L484.89 214.2 L484.34 213.8 L483.82 213.4 L483.33 213 L482.89 212.6 L482.5 212.2 L482.15 211.8 L481.81 211.4 L481.48 211 L481.19 210.6 L480.93 210.2 L480.71 209.8 L480.54 209.4 L480.4 209 L480.27 208.6 L480.15 208.2 L480.05 207.8 L479.97 207.4 L479.92 207 L479.9 206.6 L479.91 206.2 L479.94 205.8 L479.98 205.4 L480.03 205 L480.09 204.6 L480.15 204.2 L480.22 203.8 L480.3 203.4 L480.41 203 L480.53 202.6 L480.67 202.2 L480.83 201.8 L481.01 201.4 L481.2 201 L481.45 200.6 L481.74 200.2 L482.07 199.8 L482.43 199.4 L482.81 199 L483.2 198.6 L483.61 198.2 L484.04 197.8 L484.51 197.4 L485.02 197 L485.57 196.6 L486.15 196.2 L486.79 195.8 L487.49 195.4 L488.25 195 L489.05 194.6 L489.9 194.2Z" fill="#ef7f5b"/>
<path d="M674.9 194.4 L674.83 194.8 L674.7 195.2 L674.51 195.6 L674.28 196 L674.03 196.4 L673.68 196.8 L673.22 197.2 L672.69 197.6 L672.15 198 L671.62 198.4 L671.13 198.8 L670.62 199.2 L670.09 199.6 L669.57 200 L669.07 200.4 L668.61 200.8 L668.2 201.2 L667.83 201.6 L667.47 202 L667.13 202.4 L666.82 202.8 L666.53 203.2 L666.27 203.6 L666.05 204 L665.82 204.4 L665.6 204.8 L665.39 205.2 L665.22 205.6 L665.08 206 L665.01 206.4 L665 206.8 L665 207.2 L665 207.6 L665 208 L665 208.4 L665 208.8 L665 209.2 L665.02 209.6 L665.11 210 L665.26 210.4 L665.44 210.8 L665.65 211.2 L665.88 211.6 L666.1 212 L666.3 212.4 L666.52 212.8 L666.75 213.2 L667 213.6 L667.26 214 L667.53 214.4 L667.82 214.8 L668.12 215.2 L668.45 215.6 L668.83 216 L669.24 216.4 L669.66 216.8 L670.08 217.2 L670.47 217.6 L670.82 218 L671.13 218.4 L671.45 218.8 L671.76 219.2 L672.05 219.6 L672.29 220 L672.48 220.4 L672.6 220.8 L672.67 221.2 L672.74 221.6 L672.8 222 L672.84 222.4 L672.88 222.8 L672.9 223.2 L672.9 223.6 L672.89 224 L672.85 224.4 L672.81 224.8 L672.76 225.2 L672.69 225.6 L672.62 226 L672.55 226.4 L672.48 226.8 L672.41 227.2 L672.32 227.6 L672.22 228 L672.09 228.4 L671.94 228.8 L671.74 229.2 L671.44 229.6 L671.02 230 L670.35 230.4 L669.3 230.8 L615.7 230.8 L614.65 230.4 L613.98 230 L613.56 229.6 L613.26 229.2 L613.06 228.8 L612.91 228.4 L612.78 228 L612.68 227.6 L612.59 227.2 L612.52 226.8 L612.45 226.4 L612.38 226 L612.31 225.6 L612.24 225.2 L612.19 224.8 L612.15 224.4 L612.11 224 L612.1 223.6 L612.1 223.2 L612.12 222.8 L612.16 222.4 L612.2 222 L612.26 221.6 L612.33 221.2 L612.4 220.8 L612.52 220.4 L612.71 220 L612.95 219.6 L613.24 219.2 L613.55 218.8 L613.87 218.4 L614.18 218 L614.53 217.6 L614.92 217.2 L615.34 216.8 L615.76 216.4 L616.17 216 L616.55 215.6 L616.88 215.2 L617.18 214.8 L617.47 214.4 L617.74 214 L618 213.6 L618.25 213.2 L618.48 212.8 L618.7 212.4 L618.9 212 L619.12 211.6 L619.35 211.2 L619.56 210.8 L619.74 210.4 L619.89 210 L619.98 209.6 L620 209.2 L620 208.8 L620 208.4 L620 208 L620 207.6 L620 207.2 L620 206.8 L619.99 206.4 L619.92 206 L619.78 205.6 L619.61 205.2 L619.4 204.8 L619.18 204.4 L618.95 204 L618.73 203.6 L618.47 203.2 L618.18 202.8 L617.87 202.4 L617.53 202 L617.17 201.6 L616.8 201.2 L616.39 200.8 L615.93 200.4 L615.43 200 L614.91 199.6 L614.38 199.2 L613.87 198.8 L613.38 198.4 L612.85 198 L612.31 197.6 L611.78 197.2 L611.32 196.8 L610.97 196.4 L610.72 196 L610.49 195.6 L610.3 195.2 L610.17 194.8 L610.1 194.4Z" fill="#e06182"/>
<g stroke="#1f77b4" stroke-opacity="0.4" stroke-width="0.55" fill="none">
<path d="M61.6 29.1V65.5"/>
<path d="M47.6 29.1H75.6M47.6 65.5H75.6M47.6 40.3H75.6" stroke-opacity="0.34"/>
<path d="M174.8 29.1V50.9"/>
<path d="M160.8 29.1H188.8M160.8 50.9H188.8M160.8 36.2H188.8" stroke-opacity="0.34"/>
<path d="M61.6 84V120.7"/>
<path d="M47.6 84H75.6M47.6 120.7H75.6M47.6 96.4H75.6" stroke-opacity="0.34"/>
<path d="M174.8 84V120.4"/>
<path d="M160.8 84H188.8M160.8 120.4H188.8M160.8 93.4H188.8" stroke-opacity="0.34"/>
<path d="M61.6 139V175.5"/>
<path d="M47.6 139H75.6M47.6 175.5H75.6M47.6 145.4H75.6" stroke-opacity="0.34"/>
<path d="M174.8 169.3V175.6"/>
<path d="M160.8 169.3H188.8M160.8 175.6H188.8" stroke-opacity="0.34"/>
<path d="M61.6 194.2V230.9"/>
<path d="M47.6 194.2H75.6M47.6 230.9H75.6M47.6 212.3H75.6" stroke-opacity="0.34"/>
<path d="M174.8 194.2V230.7"/>
<path d="M160.8 194.2H188.8M160.8 230.7H188.8M160.8 212.5H188.8" stroke-opacity="0.34"/>
<path d="M268.9 29.3V60.3"/>
<path d="M260.4 29.3H277.4M260.4 60.3H277.4M260.4 47.6H277.4" stroke-opacity="0.34"/>
<path d="M336.8 29.1V60.1"/>
<path d="M328.3 29.1H345.3M328.3 60.1H345.3M328.3 35.3H345.3" stroke-opacity="0.34"/>
<path d="M404.8 29.1V60.1"/>
<path d="M396.3 29.1H413.3M396.3 60.1H413.3M396.3 38.3H413.3" stroke-opacity="0.34"/>
<path d="M268.9 84.1V115.4"/>
<path d="M260.4 84.1H277.4M260.4 115.4H277.4M260.4 89.4H277.4" stroke-opacity="0.34"/>
<path d="M336.8 84.1V115.3"/>
<path d="M328.3 84.1H345.3M328.3 115.3H345.3M328.3 94.25H345.3" stroke-opacity="0.34"/>
<path d="M404.8 84.1V115.3"/>
<path d="M396.3 84.1H413.3M396.3 115.3H413.3M396.3 104.9H413.3" stroke-opacity="0.34"/>
<path d="M268.9 139.1V170.2"/>
<path d="M260.4 139.1H277.4M260.4 170.2H277.4M260.4 149.4H277.4" stroke-opacity="0.34"/>
<path d="M336.8 139.1V170.2"/>
<path d="M328.3 139.1H345.3M328.3 170.2H345.3M328.3 149.25H345.3" stroke-opacity="0.34"/>
<path d="M404.8 139.1V170.3"/>
<path d="M396.3 139.1H413.3M396.3 170.3H413.3M396.3 157.2H413.3" stroke-opacity="0.34"/>
<path d="M268.9 194.3V225.2"/>
<path d="M260.4 194.3H277.4M260.4 225.2H277.4M260.4 210.1H277.4" stroke-opacity="0.34"/>
<path d="M336.8 194.5V225.3"/>
<path d="M328.3 194.5H345.3M328.3 225.3H345.3M328.3 210.1H345.3" stroke-opacity="0.34"/>
<path d="M404.8 194.3V225.3"/>
<path d="M396.3 194.3H413.3M396.3 225.3H413.3M396.3 210.1H413.3" stroke-opacity="0.34"/>
<path d="M512.5 50.9V65.3"/>
<path d="M496.5 50.9H528.5M496.5 65.3H528.5" stroke-opacity="0.34"/>
<path d="M642.5 29.2V65.3"/>
<path d="M626.5 29.2H658.5M626.5 65.3H658.5M626.5 36.5H658.5" stroke-opacity="0.34"/>
<path d="M512.5 90.1V120.9"/>
<path d="M496.5 90.1H528.5M496.5 120.9H528.5M496.5 108.4H528.5" stroke-opacity="0.34"/>
<path d="M642.5 84.2V120.8"/>
<path d="M626.5 84.2H658.5M626.5 120.8H658.5M626.5 96.3H658.5" stroke-opacity="0.34"/>
<path d="M512.5 139.4V175.6"/>
<path d="M496.5 139.4H528.5M496.5 175.6H528.5M496.5 169.3H528.5" stroke-opacity="0.34"/>
<path d="M642.5 139.2V175.7"/>
<path d="M626.5 139.2H658.5M626.5 175.7H658.5M626.5 151.3H658.5" stroke-opacity="0.34"/>
<path d="M512.5 194.2V230.5"/>
<path d="M496.5 194.2H528.5M496.5 230.5H528.5M496.5 208.4H528.5" stroke-opacity="0.34"/>
<path d="M642.5 194.4V230.8"/>
<path d="M626.5 194.4H658.5M626.5 230.8H658.5M626.5 212.3H658.5" stroke-opacity="0.34"/>
</g>
<g stroke="#a2a2a2" stroke-width="0.5" fill="none">
<path d="M61.6 65.4V70.9H174.8V65.4"/>
<path d="M61.6 120.4V125.9H174.8V120.4"/>
<path d="M61.6 175.4V180.9H174.8V175.4"/>
<path d="M61.6 230.4V235.9H174.8V230.4"/>
<path d="M268.9 60.1V70.8H404.8V60.1M268.9 64.5H336.8M336.8 60.1V67.8H404.8"/>
<path d="M268.9 115.1V125.8H404.8V115.1M268.9 119.5H336.8M336.8 115.1V122.8H404.8"/>
<path d="M268.9 170.1V180.8H404.8V170.1M268.9 174.5H336.8M336.8 170.1V177.8H404.8"/>
<path d="M268.9 225.1V235.8H404.8V225.1M268.9 229.5H336.8M336.8 225.1V232.8H404.8"/>
<path d="M512.5 65.4V70.9H642.5V65.4"/>
<path d="M512.5 120.4V125.9H642.5V120.4"/>
<path d="M512.5 175.4V180.9H642.5V175.4"/>
<path d="M512.5 230.4V235.9H642.5V230.4"/>
</g>
<g font-family="DejaVu Sans, Liberation Sans, sans-serif" font-size="8.15" fill="#111" stroke="#111" stroke-width="0.12">
<text x="23.9" y="32.67" text-anchor="end">1.0</text>
<text x="23.9" y="50.67" text-anchor="end">0.5</text>
<text x="23.9" y="68.67" text-anchor="end">0.0</text>
<text x="243" y="32.77" text-anchor="end">1</text>
<text x="243" y="63.77" text-anchor="end">0</text>
<text x="469.6" y="32.77" text-anchor="end">1</text>
<text x="469.6" y="68.67" text-anchor="end">0</text>
<text x="23.9" y="87.67" text-anchor="end">1.0</text>
<text x="23.9" y="105.67" text-anchor="end">0.5</text>
<text x="23.9" y="123.67" text-anchor="end">0.0</text>
<text x="243" y="87.77" text-anchor="end">1</text>
<text x="243" y="118.77" text-anchor="end">0</text>
<text x="469.6" y="87.77" text-anchor="end">1</text>
<text x="469.6" y="123.67" text-anchor="end">0</text>
<text x="23.9" y="142.67" text-anchor="end">1.0</text>
<text x="23.9" y="160.67" text-anchor="end">0.5</text>
<text x="23.9" y="178.67" text-anchor="end">0.0</text>
<text x="243" y="142.77" text-anchor="end">1</text>
<text x="243" y="173.77" text-anchor="end">0</text>
<text x="469.6" y="142.77" text-anchor="end">1</text>
<text x="469.6" y="178.67" text-anchor="end">0</text>
<text x="23.9" y="197.67" text-anchor="end">1.0</text>
<text x="23.9" y="215.67" text-anchor="end">0.5</text>
<text x="23.9" y="233.67" text-anchor="end">0.0</text>
<text x="243" y="197.77" text-anchor="end">1</text>
<text x="243" y="228.77" text-anchor="end">0</text>
<text x="469.6" y="197.77" text-anchor="end">1</text>
<text x="469.6" y="233.67" text-anchor="end">0</text>
<text x="61.6" y="246" text-anchor="middle" font-size="8.35">L-oscillation</text>
<text x="174.8" y="246" text-anchor="middle" font-size="8.35">H-oscillation</text>
<text x="268.9" y="246" text-anchor="middle" font-size="8.35">L-L oscillation</text>
<text x="336.8" y="246" text-anchor="middle" font-size="8.35">L-H oscillation</text>
<text x="404.8" y="246" text-anchor="middle" font-size="8.35">H-H oscillation</text>
<text x="512.9" y="246" text-anchor="middle" font-size="8.35">L-exp in L-H Osc</text>
<text x="642.2" y="246" text-anchor="middle" font-size="8.35">H-exp in L-H Osc</text>
</g>
<g font-family="DejaVu Sans, Liberation Sans, sans-serif" font-size="8.5">
<text x="118.25" y="68" text-anchor="middle" fill="#259425" stroke="#259425" stroke-width="0.1">***</text>
<text x="118.25" y="123" text-anchor="middle" fill="#259425" stroke="#259425" stroke-width="0.1">**</text>
<text x="118.25" y="178" text-anchor="middle" fill="#259425" stroke="#259425" stroke-width="0.1">***</text>
<text x="118.25" y="233" text-anchor="middle" fill="#259425" stroke="#259425" stroke-width="0.1">*</text>
<text x="577.6" y="68" text-anchor="middle" fill="#259425" stroke="#259425" stroke-width="0.1">***</text>
<text x="577.6" y="123" text-anchor="middle" fill="#ff1414" stroke="#ff1414" stroke-width="0.12">*</text>
<text x="577.6" y="178" text-anchor="middle" fill="#ff1414" stroke="#ff1414" stroke-width="0.12">*</text>
<text x="577.6" y="233" text-anchor="middle" fill="#ff1414" stroke="#ff1414" stroke-width="0.12">*</text>
<text x="303" y="62" text-anchor="middle" fill="#259425" stroke="#259425" stroke-width="0.1">***</text>
<text x="371" y="65" text-anchor="middle" fill="#ff1414" stroke="#ff1414" stroke-width="0.12">*</text>
<text x="309.9" y="73" text-anchor="middle" fill="#ff1414" stroke="#ff1414" stroke-width="0.12">*</text>
<text x="303" y="117" text-anchor="middle" fill="#ff1414" stroke="#ff1414" stroke-width="0.12">*</text>
<text x="371" y="120" text-anchor="middle" fill="#ff1414" stroke="#ff1414" stroke-width="0.12">*</text>
<text x="309.9" y="128" text-anchor="middle" fill="#259425" stroke="#259425" stroke-width="0.1">**</text>
<text x="303" y="172" text-anchor="middle" fill="#ff1414" stroke="#ff1414" stroke-width="0.12">*</text>
<text x="371" y="175" text-anchor="middle" fill="#ff1414" stroke="#ff1414" stroke-width="0.12">*</text>
<text x="309.9" y="183" text-anchor="middle" fill="#ff1414" stroke="#ff1414" stroke-width="0.12">*</text>
<text x="303" y="227" text-anchor="middle" fill="#ff1414" stroke="#ff1414" stroke-width="0.12">*</text>
<text x="371" y="230" text-anchor="middle" fill="#ff1414" stroke="#ff1414" stroke-width="0.12">*</text>
<text x="309.9" y="238" text-anchor="middle" fill="#ff1414" stroke="#ff1414" stroke-width="0.12">*</text>
</g>
<g font-family="DejaVu Sans, Liberation Sans, sans-serif" font-style="italic" fill="#111" stroke="#111" stroke-width="0.06">
<text transform="translate(98.2,25) scale(0.93,1)" font-size="8.9">wt</text>
<text x="107.95" y="26.7" font-size="6.1">STN<tspan dx="0.8">→</tspan><tspan dx="0.8">GPe</tspan></text>
<text transform="translate(98.2,80) scale(0.93,1)" font-size="8.9">wt</text>
<text x="107.95" y="81.7" font-size="6.1">GPe<tspan dx="0.8">→</tspan><tspan dx="0.8">STN</tspan></text>
<text transform="translate(107.4,135) scale(0.85,1)" font-size="8.9">bg</text>
<text x="117.7" y="132.4" font-size="6.3">ex</text>
<text x="118" y="137.1" font-size="5.9">STN</text>
<text transform="translate(107.4,190) scale(0.85,1)" font-size="8.9">bg</text>
<text x="117.7" y="187.4" font-size="6.3">ex</text>
<text x="118" y="192.1" font-size="5.9">GPe</text>
<text transform="translate(316.6,25) scale(0.93,1)" font-size="8.9">wt</text>
<text x="326.35" y="26.7" font-size="6.1">STN<tspan dx="0.8">→</tspan><tspan dx="0.8">GPe</tspan></text>
<text transform="translate(316.6,80) scale(0.93,1)" font-size="8.9">wt</text>
<text x="326.35" y="81.7" font-size="6.1">GPe<tspan dx="0.8">→</tspan><tspan dx="0.8">STN</tspan></text>
<text transform="translate(325.8,135) scale(0.85,1)" font-size="8.9">bg</text>
<text x="336.1" y="132.4" font-size="6.3">ex</text>
<text x="336.4" y="137.1" font-size="5.9">STN</text>
<text transform="translate(325.8,190) scale(0.85,1)" font-size="8.9">bg</text>
<text x="336.1" y="187.4" font-size="6.3">ex</text>
<text x="336.4" y="192.1" font-size="5.9">GPe</text>
<text transform="translate(557.6,25) scale(0.93,1)" font-size="8.9">wt</text>
<text x="567.35" y="26.7" font-size="6.1">STN<tspan dx="0.8">→</tspan><tspan dx="0.8">GPe</tspan></text>
<text transform="translate(557.6,80) scale(0.93,1)" font-size="8.9">wt</text>
<text x="567.35" y="81.7" font-size="6.1">GPe<tspan dx="0.8">→</tspan><tspan dx="0.8">STN</tspan></text>
<text transform="translate(566.8,135) scale(0.85,1)" font-size="8.9">bg</text>
<text x="577.1" y="132.4" font-size="6.3">ex</text>
<text x="577.4" y="137.1" font-size="5.9">STN</text>
<text transform="translate(566.8,190) scale(0.85,1)" font-size="8.9">bg</text>
<text x="577.1" y="187.4" font-size="6.3">ex</text>
<text x="577.4" y="192.1" font-size="5.9">GPe</text>
</g>
<g font-family="Liberation Sans, sans-serif" font-size="12.2" fill="#000">
<text transform="translate(0.5,9.4) scale(0.95,1)">A</text><text transform="translate(227.1,9.4) scale(0.9,1)">B</text><text transform="translate(450.4,9.4) scale(1.07,1)">C</text>
</g>
</svg>
</body></html>
